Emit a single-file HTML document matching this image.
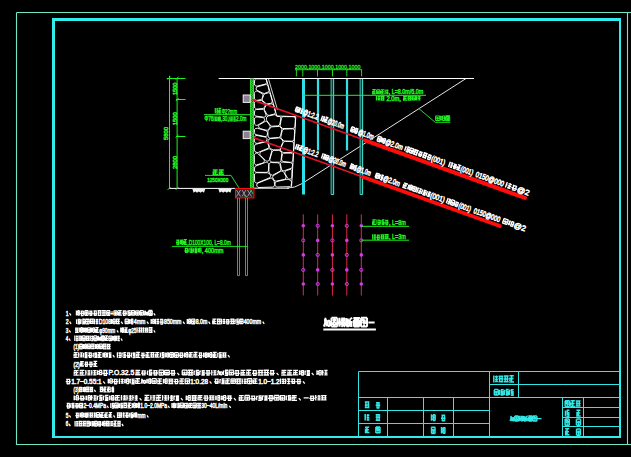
<!DOCTYPE html>
<html><head><meta charset="utf-8"><style>
html,body{margin:0;padding:0;background:#000;width:631px;height:457px;overflow:hidden}
svg{display:block}
text{font-family:"Liberation Sans",sans-serif;font-weight:normal}
</style></head><body>
<svg width="631" height="457" viewBox="0 0 631 457">
<rect width="631" height="457" fill="#000"/>
<path d="M16.5 12.5H631M627.5 12.5V444.5M16.5 12.5V444.5H631" stroke="#6ee6c8" stroke-width="1.1" fill="none"/><path d="M52 18H621V438H52Z M55 21V436H619V21Z" fill="#30ecec" fill-rule="evenodd"/><path d="M218.7 78.5H474" stroke="#ffffff" stroke-width="1" fill="none"/><path d="M466 78.5L302 183.6Q295 188 287 188.2" stroke="#ffffff" stroke-width="0.9" fill="none"/><path d="M169 188.4H235M254 188.2H289" stroke="#ffffff" stroke-width="1" fill="none"/><path d="M192.4 188.9L205.2 188.9L204.0 192.8L202.3 191.6L200.5 192.8L198.8 191.6L197.1 192.8L195.3 191.6L193.6 192.8ZM218.4 188.9L231.6 188.9L230.4 192.8L228.6 191.6L226.8 192.8L225.0 191.6L223.2 192.8L221.4 191.6L219.6 192.8Z" fill="#f0f0f0"/><path d="M266.2 78.6L276.8 116.0L295.8 116.6L291.5 186.8" stroke="#ffffff" stroke-width="1" fill="none"/><path d="M268.4 78.6L277.6 110" stroke="#ffffff" stroke-width="0.8" fill="none"/><path d="M265.1 84.2L266.2 83.6L266.8 82.6L266.5 80.5L265.7 79.3L264.3 78.8L256.7 78.8L255.5 79.1L254.7 79.9L254.4 83.9L254.8 85.2L255.9 86.1L257.2 86.1ZM272.0 162.2L279.7 162.2L280.6 161.5L281.0 160.5L281.9 152.9L280.3 151.0L278.7 150.3L274.2 150.3L272.8 150.8L272.0 152.0L269.9 159.2L270.0 160.6L270.8 161.7ZM268.0 136.0L268.4 137.1L269.3 138.0L270.5 138.2L278.6 137.5L279.9 136.9L280.6 135.7L282.0 129.1L281.4 128.1L279.4 126.4L271.2 126.9L268.4 130.3L267.9 131.8ZM265.3 141.6L266.4 141.0L267.0 139.9L267.0 138.6L266.3 137.6L265.2 137.0L257.1 135.5L255.8 135.6L254.8 136.5L254.4 137.8L254.4 141.1L254.8 142.4L255.9 143.2L257.2 143.4ZM286.4 170.5L285.3 171.2L284.9 172.5L285.1 173.7L287.5 178.0L288.6 179.0L289.7 179.2L290.8 178.9L291.6 178.1L291.9 177.1L292.0 170.7L291.3 169.8L290.3 169.4ZM257.0 152.5L258.3 152.4L268.3 148.2L268.8 147.2L268.8 146.1L267.5 142.6L266.5 142.0L265.3 141.9L255.3 144.4L254.4 146.2L254.4 150.1L255.3 152.0ZM257.0 100.4L261.2 99.6L262.0 98.6L262.9 96.0L263.0 94.9L262.6 93.9L257.7 91.3L256.5 91.1L255.5 91.4L254.7 92.3L254.4 93.4L254.4 98.2L254.8 99.4L255.7 100.2ZM270.4 103.5L271.5 102.9L272.2 101.9L272.2 100.6L270.4 94.3L269.8 93.2L268.7 92.7L265.0 93.7L263.7 95.1L262.4 98.6L262.3 99.9L263.0 101.1L266.5 103.9ZM290.6 162.7L281.8 162.0L280.9 162.7L280.4 163.6L281.4 169.1L282.0 170.2L283.2 170.8L284.4 170.7L291.0 168.4L292.1 167.7L292.6 165.1L292.4 164.0L291.7 163.1ZM264.5 110.1L267.2 115.0L269.1 115.4L273.6 114.2L274.7 113.6L275.3 112.6L275.3 111.4L273.6 105.4L273.0 104.5L272.1 103.9L271.0 103.8L266.7 104.7L264.6 107.9L264.3 109.0ZM265.4 84.6L256.8 86.9L256.2 87.9L256.1 89.0L256.5 90.0L263.0 93.3L264.8 93.4L267.7 92.2L268.6 91.6L269.1 90.6L268.1 86.2L267.6 85.2L266.5 84.6ZM270.4 148.6L273.1 149.9L278.1 149.9L279.3 149.6L280.2 148.6L282.8 142.5L283.0 141.2L281.1 138.5L279.2 137.8L270.2 138.6L269.0 139.1L268.1 140.6L268.0 141.9L269.5 147.3ZM257.3 128.2L255.3 128.6L254.6 129.4L254.4 132.7L255.3 134.5L264.9 136.6L266.2 136.4L267.2 135.5L267.5 132.7L267.0 131.4L265.9 130.6ZM269.3 173.6L267.6 172.8L256.7 172.7L255.6 173.0L254.7 173.9L254.4 175.0L254.7 181.8L255.4 182.6L256.5 183.0L257.6 182.8L269.2 178.0L270.1 177.4L270.5 176.4L270.5 175.3ZM285.4 141.4L284.1 141.7L283.2 142.7L280.6 148.6L280.4 150.0L281.1 151.2L283.4 152.6L291.2 152.6L292.3 152.3L293.2 151.6L293.5 150.5L293.9 144.0L293.7 142.9L292.9 142.0L291.7 141.6ZM258.1 183.0L257.1 183.8L256.7 185.0L257.0 186.2L257.9 187.2L259.1 187.5L272.4 187.1L273.5 186.8L274.3 185.9L274.6 184.8L274.2 181.2L272.8 179.0L271.1 177.9ZM266.2 172.4L267.4 172.1L268.2 171.2L268.5 170.1L268.6 164.6L268.4 163.5L267.6 162.7L266.6 162.3L265.5 162.4L255.9 165.9L254.8 166.8L254.4 170.0L254.7 171.2L255.5 172.0L256.7 172.3ZM254.4 119.1L254.7 124.3L255.6 125.1L256.7 125.4L257.9 125.1L263.4 121.7L264.2 120.9L264.6 119.8L264.3 118.7L263.6 117.9L262.5 117.5L257.0 116.9L255.7 117.1L254.8 117.9ZM263.6 117.2L264.8 117.0L265.8 116.2L266.2 115.1L264.3 110.5L263.4 109.6L262.1 109.3L256.6 109.5L255.5 109.9L254.7 110.7L254.4 114.1L254.7 115.2L255.4 116.0ZM256.8 109.1L263.4 108.5L265.2 106.0L265.3 104.0L264.8 103.2L261.5 100.5L256.4 100.9L255.4 101.3L254.7 102.1L254.4 103.2L254.7 108.0L255.6 108.9ZM273.8 175.3L272.9 176.2L272.6 177.3L274.0 180.1L275.0 181.0L276.4 181.1L284.4 179.4L285.4 178.9L286.2 177.0L283.8 172.2L283.0 171.3L281.8 171.0L280.7 171.3ZM284.4 129.1L283.0 129.6L282.2 130.8L280.9 136.2L280.9 137.4L281.4 138.4L283.1 140.2L284.7 141.0L291.8 141.2L293.0 141.0L293.9 140.2L294.2 139.1L294.7 131.2L294.4 130.0L293.6 129.1L292.3 128.8ZM281.4 118.2L280.1 125.8L280.7 126.8L282.7 128.5L292.8 128.4L293.9 128.0L294.7 127.3L295.0 126.2L295.4 119.2L295.2 118.0L294.4 117.1L293.2 116.7L282.7 116.6ZM266.1 130.2L267.4 130.2L268.5 129.4L269.7 127.9L270.1 126.5L269.7 125.1L267.4 122.2L266.5 121.5L265.4 121.3L259.7 124.5L258.8 125.4L258.6 126.7L259.2 127.9L260.3 128.6ZM263.7 159.2L257.4 153.2L256.4 153.1L255.4 153.5L254.7 154.3L254.4 155.4L254.4 162.8L254.7 163.8L255.4 164.6L256.4 165.0L262.8 163.0L263.8 162.3L264.3 161.3L264.3 160.2ZM265.6 160.5L266.6 161.1L267.8 161.2L268.8 160.6L269.4 159.6L271.6 151.8L271.6 150.4L270.5 149.2L269.5 148.8L268.4 148.9L261.3 151.6L260.4 152.3L259.9 153.3L259.9 154.4L260.5 155.4ZM275.0 184.7L275.3 185.9L276.2 186.7L277.4 187.0L289.2 186.7L290.3 186.4L291.1 185.6L291.6 182.4L291.2 181.1L290.2 180.2L288.4 179.4L287.0 179.2L276.8 181.5L275.2 182.7ZM268.2 116.0L266.7 117.1L266.4 119.5L266.9 120.8L270.3 125.3L271.2 126.0L272.3 126.2L277.7 125.9L279.0 125.3L279.8 124.1L280.8 119.0L280.7 117.7L279.9 116.7L276.6 116.2L276.1 115.2L275.0 114.6ZM290.9 153.0L283.5 153.2L282.6 153.9L282.2 154.9L281.6 158.9L281.8 160.2L282.5 161.1L283.7 161.6L290.4 162.3L291.6 162.1L292.5 161.3L292.9 160.1L293.2 155.5L293.0 154.3L292.1 153.4ZM271.4 162.5L270.2 162.8L269.3 163.6L269.0 164.8L268.9 171.6L269.5 173.2L270.7 174.5L272.5 175.3L279.9 171.3L280.8 170.2L280.9 168.8L279.9 164.5L279.1 163.3L277.8 162.8Z" stroke="#ffffff" stroke-width="0.95" fill="none"/><rect x="250.3" y="78.6" width="3.4" height="109.6" fill="#137a13"/><path d="M250.6 78.6V188.2M253.5 78.6V188.2" stroke="#2ee62e" stroke-width="1" fill="none"/><path d="M251.2 80.0l1.6 1.2l-1.6 1.2M251.2 82.4l1.6 1.2l-1.6 1.2M251.2 84.8l1.6 1.2l-1.6 1.2M251.2 87.2l1.6 1.2l-1.6 1.2M251.2 89.6l1.6 1.2l-1.6 1.2M251.2 92.0l1.6 1.2l-1.6 1.2M251.2 94.4l1.6 1.2l-1.6 1.2M251.2 96.8l1.6 1.2l-1.6 1.2M251.2 99.2l1.6 1.2l-1.6 1.2M251.2 101.6l1.6 1.2l-1.6 1.2M251.2 104.0l1.6 1.2l-1.6 1.2M251.2 106.4l1.6 1.2l-1.6 1.2M251.2 108.8l1.6 1.2l-1.6 1.2M251.2 111.2l1.6 1.2l-1.6 1.2M251.2 113.6l1.6 1.2l-1.6 1.2M251.2 116.0l1.6 1.2l-1.6 1.2M251.2 118.4l1.6 1.2l-1.6 1.2M251.2 120.8l1.6 1.2l-1.6 1.2M251.2 123.2l1.6 1.2l-1.6 1.2M251.2 125.6l1.6 1.2l-1.6 1.2M251.2 128.0l1.6 1.2l-1.6 1.2M251.2 130.4l1.6 1.2l-1.6 1.2M251.2 132.8l1.6 1.2l-1.6 1.2M251.2 135.2l1.6 1.2l-1.6 1.2M251.2 137.6l1.6 1.2l-1.6 1.2M251.2 140.0l1.6 1.2l-1.6 1.2M251.2 142.4l1.6 1.2l-1.6 1.2M251.2 144.8l1.6 1.2l-1.6 1.2M251.2 147.2l1.6 1.2l-1.6 1.2M251.2 149.6l1.6 1.2l-1.6 1.2M251.2 152.0l1.6 1.2l-1.6 1.2M251.2 154.4l1.6 1.2l-1.6 1.2M251.2 156.8l1.6 1.2l-1.6 1.2M251.2 159.2l1.6 1.2l-1.6 1.2M251.2 161.6l1.6 1.2l-1.6 1.2M251.2 164.0l1.6 1.2l-1.6 1.2M251.2 166.4l1.6 1.2l-1.6 1.2M251.2 168.8l1.6 1.2l-1.6 1.2M251.2 171.2l1.6 1.2l-1.6 1.2M251.2 173.6l1.6 1.2l-1.6 1.2M251.2 176.0l1.6 1.2l-1.6 1.2M251.2 178.4l1.6 1.2l-1.6 1.2M251.2 180.8l1.6 1.2l-1.6 1.2M251.2 183.2l1.6 1.2l-1.6 1.2M251.2 185.6l1.6 1.2l-1.6 1.2" stroke="#3cf03c" stroke-width="0.7" fill="none"/><rect x="243.2" y="95.0" width="7" height="7.4" fill="#8c8296" stroke="#f0f0f0" stroke-width="1"/><rect x="243.2" y="131.2" width="7" height="7.4" fill="#8c8296" stroke="#f0f0f0" stroke-width="1"/><rect x="235.5" y="188.5" width="18.4" height="9.4" fill="#2a2228" stroke="#ff0c0c" stroke-width="1.1"/><path d="M236.5 190l4 6.5M240.5 190l-4 6.5M242 190l4 6.5M246 190l-4 6.5M247.5 190l4 6.5M251.5 190l-4 6.5" stroke="#a8a0b0" stroke-width="0.9" fill="none"/><path d="M250.5 189.5l2.5 4.5M244 195.5l3 1.5" stroke="#3ad23a" stroke-width="0.9" fill="none"/><path d="M237.5 198V275.6M239.5 198V275.6M245.5 198V275.6M247.5 198V275.6M237.5 275.6H239.5M245.5 275.6H247.5" stroke="#d23ce6" stroke-width="1" fill="none"/><path d="M303.5 79V194.5" stroke="#2ee0e8" stroke-width="3" fill="none"/><path d="M318 79V150.5M347 79V150.5" stroke="#2ee0e8" stroke-width="2.2" fill="none"/><path d="M331.2 79V194.5M333.6 79V194.5M360.2 79V194.5M362.6 79V194.5M331.2 194.5H333.6M360.2 194.5H362.6" stroke="#44dccc" stroke-width="1.1" fill="none"/><path d="M332.4 79V194M361.4 79V194" stroke="#0a3a38" stroke-width="1.2" fill="none"/><path d="M252.4 99.8L365.0 140.3" stroke="#e01428" stroke-width="1.7" fill="none"/><path d="M365.0 140.3L525.0 197.9" stroke="#ff0c0c" stroke-width="4" stroke-linecap="round" fill="none"/><path d="M253.7 137.8L363.0 177.0" stroke="#e01428" stroke-width="1.7" fill="none"/><path d="M363.0 177.0L499.9 226.0" stroke="#ff0c0c" stroke-width="3.8" stroke-linecap="round" fill="none"/><g transform="translate(296.70 106.34) rotate(19.792) scale(0.6449 1)"><path d="M0.28 0.65H5.32M0.28 5.10H5.32M0.25 0.45V5.15M5.30 0.45V5.15M0.56 2.62H5.04M2.84 1.68V5.04M6.59 0.00V5.60M6.05 2.33H7.73M8.29 0.80H11.65M8.29 2.96H11.65M8.29 5.06H11.65M9.77 0.00V5.32" stroke="#ffffff" stroke-width="1.45" fill="none" vector-effect="non-scaling-stroke"/><text x="12.10" y="5.60" font-size="7.78" fill="#ffffff" stroke="#ffffff" stroke-width="0.58">@1:2.2</text></g><g transform="translate(322.40 115.59) rotate(19.792) scale(0.5755 1)"><path d="M0.50 0.00V5.60M0.00 2.40H1.68M2.24 0.90H5.60M2.24 3.28H5.60M2.24 5.07H5.60M3.87 0.00V5.32M6.33 0.24H11.37M9.01 0.28V5.32M6.61 2.71H11.09M6.05 4.99H11.65M6.72 1.68V4.48" stroke="#ffffff" stroke-width="1.45" fill="none" vector-effect="non-scaling-stroke"/><text x="12.10" y="5.60" font-size="7.78" fill="#ffffff" stroke="#ffffff" stroke-width="0.58">@20.0m</text></g><g transform="translate(352.00 126.24) rotate(19.792) scale(0.6421 1)"><path d="M0.28 0.47H5.32M0.28 5.23H5.32M0.27 0.45V5.15M5.18 0.45V5.15M0.56 2.66H5.04M2.62 1.68V5.04M6.61 0.64H11.09M7.53 0.84V5.60M10.12 0.84V5.60M6.05 3.44H11.65M7.17 5.29H10.53" stroke="#ffffff" stroke-width="1.45" fill="none" vector-effect="non-scaling-stroke"/><text x="12.10" y="5.60" font-size="7.78" fill="#ffffff" stroke="#ffffff" stroke-width="0.58">@1.0m</text></g><g transform="translate(378.50 135.78) rotate(19.792) scale(0.7188 1)"><path d="M0.28 0.43H5.32M0.28 5.34H5.32M0.39 0.45V5.15M5.04 0.45V5.15M0.56 2.66H5.04M2.93 1.68V5.04M6.92 0.28V5.32M6.05 1.69H8.01M6.05 4.09H8.01M8.57 0.66H11.37M8.57 2.70H11.37M8.57 5.26H11.37M8.68 0.56V5.04M11.05 0.56V5.04" stroke="#ffffff" stroke-width="1.45" fill="none" vector-effect="non-scaling-stroke"/><text x="12.10" y="5.60" font-size="7.78" fill="#ffffff" stroke="#ffffff" stroke-width="0.58">@2.0m</text></g><g transform="translate(406.00 145.68) rotate(19.792) scale(0.7808 1)"><path d="M0.49 0.56V5.32M0.00 1.31H1.68M2.24 0.52H5.60M2.24 2.45H5.60M2.24 3.73H5.60M1.96 5.35H5.60M3.21 0.56V3.92M4.90 2.24V5.32M6.33 0.54H11.37M6.33 5.19H11.37M6.53 0.45V5.15M11.18 0.45V5.15M6.61 2.95H11.09M9.05 1.68V5.04M12.10 0.65H17.70M12.10 2.61H17.70M12.10 5.14H17.70M13.41 0.56V5.32M16.33 0.28V5.04M18.70 0.98H23.18M19.73 0.84V5.60M22.29 0.84V5.60M18.14 3.44H23.74M19.26 5.11H22.62M24.19 0.50H29.79M24.19 2.85H29.79M24.19 5.04H29.79M25.47 0.56V5.32M28.30 0.28V5.04M30.80 0.73H35.28M31.87 0.84V5.60M34.61 0.84V5.60M30.24 3.17H35.84M31.36 5.30H34.72" stroke="#ffffff" stroke-width="1.45" fill="none" vector-effect="non-scaling-stroke"/><text x="36.29" y="5.60" font-size="7.78" fill="#ffffff" stroke="#ffffff" stroke-width="0.58">(001)</text></g><g transform="translate(450.00 161.51) rotate(19.792) scale(0.7026 1)"><path d="M0.57 0.00V5.60M0.00 2.36H1.68M2.24 0.81H5.60M2.24 3.10H5.60M2.24 5.13H5.60M4.14 0.00V5.32M6.61 1.01H11.09M7.93 0.84V5.60M10.09 0.84V5.60M6.05 3.21H11.65M7.17 5.20H10.53M12.38 0.23H17.42M15.04 0.28V5.32M12.66 2.66H17.14M12.10 5.05H17.70M12.78 1.68V4.48" stroke="#ffffff" stroke-width="1.45" fill="none" vector-effect="non-scaling-stroke"/><text x="18.14" y="5.60" font-size="7.78" fill="#ffffff" stroke="#ffffff" stroke-width="0.58">(001)</text></g><g transform="translate(477.00 171.23) rotate(19.792) scale(0.7775 1)"><text x="0.00" y="5.60" font-size="7.78" fill="#ffffff" stroke="#ffffff" stroke-width="0.58">0150@000</text></g><g transform="translate(506.70 181.91) rotate(19.792) scale(1.0315 1)"><path d="M0.61 0.00V5.60M0.00 2.55H1.68M2.24 1.04H5.60M2.24 3.17H5.60M2.24 5.05H5.60M3.97 0.00V5.32M6.61 0.95H11.09M7.71 0.84V5.60M10.41 0.84V5.60M6.05 3.56H11.65M7.17 5.40H10.53" stroke="#ffffff" stroke-width="1.45" fill="none" vector-effect="non-scaling-stroke"/><text x="12.10" y="5.60" font-size="7.78" fill="#ffffff" stroke="#ffffff" stroke-width="0.58">@2</text></g><g transform="translate(296.70 143.80) rotate(19.710) scale(0.6446 1)"><path d="M0.62 0.00V5.60M0.00 2.47H1.68M2.24 0.66H5.60M2.24 3.14H5.60M2.24 4.84H5.60M3.73 0.00V5.32M6.33 0.42H11.37M8.67 0.28V5.32M6.61 2.85H11.09M6.05 4.97H11.65M6.92 1.68V4.48" stroke="#ffffff" stroke-width="1.45" fill="none" vector-effect="non-scaling-stroke"/><text x="12.10" y="5.60" font-size="7.78" fill="#ffffff" stroke="#ffffff" stroke-width="0.58">@1:2.2</text></g><g transform="translate(323.00 153.23) rotate(19.710) scale(0.6109 1)"><path d="M0.49 0.00V5.60M0.00 2.46H1.68M2.24 0.63H5.60M2.24 3.25H5.60M2.24 5.09H5.60M3.76 0.00V5.32M6.33 0.65H11.37M6.33 5.20H11.37M6.48 0.45V5.15M11.03 0.45V5.15M6.61 2.79H11.09M9.06 1.68V5.04" stroke="#ffffff" stroke-width="1.45" fill="none" vector-effect="non-scaling-stroke"/><text x="12.10" y="5.60" font-size="7.78" fill="#ffffff" stroke="#ffffff" stroke-width="0.58">@20.0m</text></g><g transform="translate(351.00 163.26) rotate(19.710) scale(0.5963 1)"><path d="M0.00 0.55H5.60M0.00 2.61H5.60M0.00 4.86H5.60M1.33 0.56V5.32M4.09 0.28V5.04M6.69 0.56V5.32M6.05 1.13H7.73M8.29 0.43H11.65M8.29 2.44H11.65M8.29 3.86H11.65M8.01 5.41H11.65M9.31 0.56V3.92M10.92 2.24V5.32" stroke="#ffffff" stroke-width="1.45" fill="none" vector-effect="non-scaling-stroke"/><text x="12.10" y="5.60" font-size="7.78" fill="#ffffff" stroke="#ffffff" stroke-width="0.58">@1.0m</text></g><g transform="translate(376.50 172.39) rotate(19.710) scale(0.6957 1)"><path d="M0.28 0.66H5.32M0.28 5.31H5.32M0.54 0.45V5.15M5.04 0.45V5.15M0.56 2.74H5.04M2.65 1.68V5.04M6.48 0.56V5.32M6.05 1.14H7.73M8.29 0.56H11.65M8.29 2.30H11.65M8.29 3.97H11.65M8.01 5.45H11.65M9.24 0.56V3.92M10.67 2.24V5.32" stroke="#ffffff" stroke-width="1.45" fill="none" vector-effect="non-scaling-stroke"/><text x="12.10" y="5.60" font-size="7.78" fill="#ffffff" stroke="#ffffff" stroke-width="0.58">@2.0m</text></g><g transform="translate(404.00 182.24) rotate(19.710) scale(0.8116 1)"><path d="M0.28 0.59H5.32M2.91 0.28V5.32M0.56 2.68H5.04M0.00 5.16H5.60M0.78 1.68V4.48M7.11 0.28V5.32M6.05 1.81H8.01M6.05 3.91H8.01M8.57 0.42H11.37M8.57 2.85H11.37M8.57 4.97H11.37M8.99 0.56V5.04M11.19 0.56V5.04M12.38 0.65H17.42M12.38 5.09H17.42M12.42 0.45V5.15M17.13 0.45V5.15M12.66 2.66H17.14M14.76 1.68V5.04M19.03 0.00V5.60M18.14 2.57H19.82M20.38 0.62H23.74M20.38 3.26H23.74M20.38 4.97H23.74M22.13 0.00V5.32M24.82 0.56V5.32M24.19 1.30H25.87M26.43 0.69H29.79M26.43 2.35H29.79M26.43 3.91H29.79M26.15 5.18H29.79M27.40 0.56V3.92M28.88 2.24V5.32M31.00 0.56V5.32M30.24 1.22H31.92M32.48 0.54H35.84M32.48 2.35H35.84M32.48 3.73H35.84M32.20 5.17H35.84M33.54 0.56V3.92M34.79 2.24V5.32" stroke="#ffffff" stroke-width="1.45" fill="none" vector-effect="non-scaling-stroke"/><text x="36.29" y="5.60" font-size="7.78" fill="#ffffff" stroke="#ffffff" stroke-width="0.58">(001)</text></g><g transform="translate(447.60 197.86) rotate(19.710) scale(0.7140 1)"><path d="M0.85 0.00V5.60M0.00 2.66H1.68M2.24 0.68H5.60M2.24 3.23H5.60M2.24 5.26H5.60M3.99 0.00V5.32M6.33 0.29H11.37M6.33 5.17H11.37M6.28 0.45V5.15M11.33 0.45V5.15M6.61 2.90H11.09M8.67 1.68V5.04M12.66 1.03H17.14M13.75 0.84V5.60M16.46 0.84V5.60M12.10 3.51H17.70M13.22 5.19H16.58" stroke="#ffffff" stroke-width="1.45" fill="none" vector-effect="non-scaling-stroke"/><text x="18.14" y="5.60" font-size="7.78" fill="#ffffff" stroke="#ffffff" stroke-width="0.58">(001)</text></g><g transform="translate(475.00 207.68) rotate(19.710) scale(0.7238 1)"><text x="0.00" y="5.60" font-size="7.78" fill="#ffffff" stroke="#ffffff" stroke-width="0.58">0150@000</text></g><g transform="translate(503.70 217.96) rotate(19.710) scale(1.0045 1)"><path d="M0.28 0.32H5.32M0.28 5.15H5.32M0.57 0.45V5.15M5.07 0.45V5.15M0.56 2.82H5.04M2.95 1.68V5.04M7.07 0.28V5.32M6.05 1.61H8.01M6.05 3.90H8.01M8.57 0.60H11.37M8.57 2.98H11.37M8.57 5.00H11.37M9.04 0.56V5.04M11.09 0.56V5.04" stroke="#ffffff" stroke-width="1.45" fill="none" vector-effect="non-scaling-stroke"/><text x="12.10" y="5.60" font-size="7.78" fill="#ffffff" stroke="#ffffff" stroke-width="0.58">@2</text></g><path d="M169.5 75.8V188.4M177.1 78.5V188.4M166.8 78.5H185.5M176 99.5H185.5M176 136.5H185.5" stroke="#22f022" stroke-width="1" fill="none"/><path d="M167.6 79.6l3 -3M175.7 79.6l3 -3M175.7 101.1l3 -3M175.7 137.6l3 -3M175.7 189.9l3 -3M167.6 189.9l3 -3" stroke="#22f022" stroke-width="1" fill="none"/><g transform="translate(172.8 95) rotate(-90)"><g transform="translate(0.00 0.00) scale(1.0646 1)"><text x="0.00" y="3.80" font-size="5.28" fill="#22f022" stroke="#22f022" stroke-width="0.48">1500</text></g></g><g transform="translate(172.8 125.2) rotate(-90)"><g transform="translate(0.00 0.00) scale(1.1072 1)"><text x="0.00" y="3.80" font-size="5.28" fill="#22f022" stroke="#22f022" stroke-width="0.48">1500</text></g></g><g transform="translate(172.8 169) rotate(-90)"><g transform="translate(0.00 0.00) scale(1.1072 1)"><text x="0.00" y="3.80" font-size="5.28" fill="#22f022" stroke="#22f022" stroke-width="0.48">2800</text></g></g><g transform="translate(164.6 140) rotate(-90)"><g transform="translate(0.00 0.00) scale(1.1072 1)"><text x="0.00" y="3.80" font-size="5.28" fill="#22f022" stroke="#22f022" stroke-width="0.48">5800</text></g></g><g transform="translate(215.00 108.00) scale(0.5509 1)"><path d="M0.52 0.00V5.60M0.00 2.52H1.68M2.24 1.01H5.60M2.24 3.20H5.60M2.24 5.09H5.60M4.04 0.00V5.32M6.33 0.30H11.37M8.84 0.28V5.32M6.61 2.90H11.09M6.05 5.18H11.65M6.81 1.68V4.48" stroke="#22f022" stroke-width="1.20" fill="none" vector-effect="non-scaling-stroke"/><text x="12.10" y="5.60" font-size="7.78" fill="#22f022" stroke="#22f022" stroke-width="0.48">Φ2?mm</text></g><path d="M204 114.7H250" stroke="#22f022" stroke-width="1" fill="none"/><g transform="translate(204.50 116.20) scale(0.6514 1)"><path d="M14.60 0.00V5.20M13.96 2.33H15.52M16.04 0.90H19.16M16.04 3.02H19.16M16.04 4.50H19.16M17.47 0.00V4.94M20.47 0.26V4.94M19.58 1.56H21.40M19.58 3.67H21.40M21.92 0.63H24.52M21.92 2.77H24.52M21.92 4.66H24.52M22.22 0.52V4.68M24.26 0.52V4.68M37.74 0.00V5.20M37.24 2.25H38.80M39.32 0.78H42.44M39.32 2.99H42.44M39.32 4.68H42.44M40.77 0.00V4.94M43.64 0.00V5.20M42.86 2.52H44.42M44.94 0.68H48.06M44.94 2.88H48.06M44.94 4.86H48.06M46.64 0.00V4.94" stroke="#22f022" stroke-width="1.20" fill="none" vector-effect="non-scaling-stroke"/><text x="0.00" y="5.20" font-size="7.22" fill="#22f022" stroke="#22f022" stroke-width="0.48">Φ76</text><text x="25.19" y="5.20" font-size="7.22" fill="#22f022" stroke="#22f022" stroke-width="0.48">,30,</text><text x="48.47" y="5.20" font-size="7.22" fill="#22f022" stroke="#22f022" stroke-width="0.48">2.0m</text></g><g transform="translate(212.50 169.60) scale(1.0684 1)"><path d="M0.26 0.38H4.94M2.56 0.26V4.94M0.52 2.52H4.68M0.00 4.86H5.20M0.75 1.56V4.16M5.88 0.49H10.56M8.33 0.26V4.94M6.14 2.77H10.30M5.62 4.64H10.82M6.49 1.56V4.16" stroke="#22f022" stroke-width="1.50" fill="none" vector-effect="non-scaling-stroke"/></g><path d="M205 175.4H231L239 188" stroke="#22f022" stroke-width="0.9" fill="none"/><g transform="translate(207.20 177.10) scale(0.7403 1)"><text x="0.00" y="4.50" font-size="6.25" fill="#22f022" stroke="#22f022" stroke-width="0.52">1250X000</text></g><g transform="translate(176.00 239.30) scale(0.6254 1)"><path d="M0.56 0.78H5.04M1.57 0.84V5.60M4.04 0.84V5.60M0.00 3.35H5.60M1.12 5.43H4.48M6.84 0.28V5.32M6.05 1.67H8.01M6.05 4.14H8.01M8.57 0.71H11.37M8.57 2.65H11.37M8.57 5.01H11.37M8.85 0.56V5.04M11.02 0.56V5.04M12.38 0.38H17.42M14.71 0.28V5.32M12.66 2.74H17.14M12.10 5.08H17.70M12.92 1.68V4.48" stroke="#22f022" stroke-width="1.20" fill="none" vector-effect="non-scaling-stroke"/><text x="18.14" y="5.60" font-size="7.78" fill="#22f022" stroke="#22f022" stroke-width="0.48">,D100X100,</text><text x="61.40" y="5.60" font-size="7.78" fill="#22f022" stroke="#22f022" stroke-width="0.48">L=8.0m</text></g><path d="M172 246.4H247.7" stroke="#22f022" stroke-width="0.9" fill="none"/><g transform="translate(184.30 247.80) scale(0.8075 1)"><path d="M0.50 0.56H4.50M1.43 0.75V5.00M3.80 0.75V5.00M0.00 3.00H5.00M1.00 4.58H4.00M5.79 0.50V4.75M5.40 1.15H6.90M7.40 0.33H10.40M7.40 1.91H10.40M7.40 3.66H10.40M7.15 4.62H10.40M8.25 0.50V3.50M9.78 2.00V4.75M11.46 0.50V4.75M10.80 1.13H12.30M12.80 0.40H15.80M12.80 1.86H15.80M12.80 3.67H15.80M12.55 4.78H15.80M13.63 0.50V3.50M14.89 2.00V4.75M17.07 0.25V4.75M16.20 1.37H17.95M16.20 3.66H17.95M18.45 0.41H20.95M18.45 2.31H20.95M18.45 4.34H20.95M18.60 0.50V4.50M20.74 0.50V4.50" stroke="#22f022" stroke-width="1.20" fill="none" vector-effect="non-scaling-stroke"/><text x="21.60" y="5.00" font-size="6.94" fill="#22f022" stroke="#22f022" stroke-width="0.48">,</text><text x="25.47" y="5.00" font-size="6.94" fill="#22f022" stroke="#22f022" stroke-width="0.48">400mm</text></g><g transform="translate(295.00 65.00) scale(0.8774 1)"><text x="0.00" y="4.40" font-size="6.11" fill="#22f022" stroke="#22f022" stroke-width="0.32">2000,1000,1000,1000,1000</text></g><path d="M295 69.7H362M296.4 69.7V76.4M302.8 69.7V76.4M317.5 69.7V76.4M332.5 69.7V76.4M346.8 69.7V76.4M361.6 69.7V76.4" stroke="#22f022" stroke-width="0.9" fill="none"/><g transform="translate(372.10 89.50) scale(0.8042 1)"><path d="M0.24 0.22H4.56M2.54 0.24V4.56M0.48 2.38H4.32M0.00 4.35H4.80M0.74 1.44V3.84M5.42 0.43H9.74M5.42 4.24H9.74M5.65 0.38V4.42M9.77 0.38V4.42M5.66 2.58H9.50M7.49 1.44V4.32M10.61 0.27H14.93M12.70 0.24V4.56M10.85 2.33H14.69M10.37 4.52H15.17M11.01 1.44V3.84M16.19 0.00V4.80M15.55 2.07H16.99M17.47 0.84H20.35M17.47 2.83H20.35M17.47 4.14H20.35M18.73 0.00V4.56" stroke="#22f022" stroke-width="1.20" fill="none" vector-effect="non-scaling-stroke"/><text x="20.74" y="4.80" font-size="6.67" fill="#22f022" stroke="#22f022" stroke-width="0.48">,</text><text x="24.45" y="4.80" font-size="6.67" fill="#22f022" stroke="#22f022" stroke-width="0.48">L=8.0m/6.0m</text></g><path d="M303 95.3H426" stroke="#22f022" stroke-width="1" fill="none"/><g transform="translate(375.90 95.90) scale(0.9050 1)"><path d="M0.57 0.00V4.60M0.00 1.96H1.38M1.84 0.68H4.60M1.84 2.69H4.60M1.84 4.00H4.60M3.34 0.00V4.37M4.97 0.52H9.57M4.97 2.32H9.57M4.97 4.28H9.57M6.29 0.46V4.37M8.35 0.23V4.14M30.08 0.55H34.22M32.09 0.23V4.37M30.31 2.42H33.99M29.85 4.31H34.45M30.59 1.38V3.68M34.82 0.64H39.42M34.82 2.48H39.42M34.82 4.26H39.42M35.79 0.46V4.37M38.32 0.23V4.14M40.02 0.34H44.16M40.02 4.07H44.16M40.22 0.37V4.23M43.98 0.37V4.23M40.25 2.30H43.93M42.26 1.38V4.14M45.21 0.00V4.60M44.75 1.99H46.13M46.59 0.68H49.35M46.59 2.40H49.35M46.59 4.12H49.35M47.89 0.00V4.37" stroke="#22f022" stroke-width="1.20" fill="none" vector-effect="non-scaling-stroke"/><text x="11.72" y="4.60" font-size="6.39" fill="#22f022" stroke="#22f022" stroke-width="0.48">2.0m,</text></g><path d="M418.9 108.6L435.2 122.3H450.4" stroke="#22f022" stroke-width="0.9" fill="none"/><g transform="translate(435.40 115.40) scale(0.8267 1)"><path d="M0.28 0.66H5.32M0.28 5.17H5.32M0.33 0.45V5.15M5.36 0.45V5.15M0.56 2.71H5.04M2.74 1.68V5.04M6.81 0.28V5.32M6.05 1.49H8.01M6.05 3.82H8.01M8.57 0.63H11.37M8.57 2.69H11.37M8.57 5.16H11.37M8.66 0.56V5.04M11.23 0.56V5.04M12.10 0.39L17.70 0.39M14.62 0.39L14.34 1.40M12.54 1.40L17.25 1.40M12.54 1.40L12.54 5.43M17.25 1.40L17.25 5.43M12.54 5.32L17.25 5.32M14.06 1.40L14.06 5.32M15.74 1.40L15.74 5.32M14.06 2.80L15.74 2.80M14.06 4.03L15.74 4.03" stroke="#22f022" stroke-width="1.10" fill="none" vector-effect="non-scaling-stroke"/></g><path d="M303.3 214.4V295.5M317.7 214.4V295.5M332.4 214.4V295.5M346.8 214.4V295.5M361.3 214.4V295.5" stroke="#e0284a" stroke-width="1" fill="none"/><circle cx="303.3" cy="225.8" r="1.8" fill="#d23ce6"/><circle cx="317.7" cy="225.8" r="1.6" fill="none" stroke="#d23ce6" stroke-width="1"/><circle cx="332.4" cy="225.8" r="1.8" fill="#d23ce6"/><circle cx="346.8" cy="225.8" r="1.6" fill="none" stroke="#d23ce6" stroke-width="1"/><circle cx="361.3" cy="225.8" r="1.8" fill="#d23ce6"/><circle cx="303.3" cy="240.4" r="1.6" fill="none" stroke="#d23ce6" stroke-width="1"/><circle cx="317.7" cy="240.4" r="1.8" fill="#d23ce6"/><circle cx="332.4" cy="240.4" r="1.6" fill="none" stroke="#d23ce6" stroke-width="1"/><circle cx="346.8" cy="240.4" r="1.8" fill="#d23ce6"/><circle cx="361.3" cy="240.4" r="1.6" fill="none" stroke="#d23ce6" stroke-width="1"/><circle cx="303.3" cy="254.9" r="1.8" fill="#d23ce6"/><circle cx="317.7" cy="254.9" r="1.6" fill="none" stroke="#d23ce6" stroke-width="1"/><circle cx="332.4" cy="254.9" r="1.8" fill="#d23ce6"/><circle cx="346.8" cy="254.9" r="1.6" fill="none" stroke="#d23ce6" stroke-width="1"/><circle cx="361.3" cy="254.9" r="1.8" fill="#d23ce6"/><circle cx="303.3" cy="269.9" r="1.6" fill="none" stroke="#d23ce6" stroke-width="1"/><circle cx="317.7" cy="269.9" r="1.8" fill="#d23ce6"/><circle cx="332.4" cy="269.9" r="1.6" fill="none" stroke="#d23ce6" stroke-width="1"/><circle cx="346.8" cy="269.9" r="1.8" fill="#d23ce6"/><circle cx="361.3" cy="269.9" r="1.6" fill="none" stroke="#d23ce6" stroke-width="1"/><circle cx="303.3" cy="284.0" r="1.8" fill="#d23ce6"/><circle cx="317.7" cy="284.0" r="1.6" fill="none" stroke="#d23ce6" stroke-width="1"/><circle cx="332.4" cy="284.0" r="1.8" fill="#d23ce6"/><circle cx="346.8" cy="284.0" r="1.6" fill="none" stroke="#d23ce6" stroke-width="1"/><circle cx="361.3" cy="284.0" r="1.8" fill="#d23ce6"/><path d="M361.3 226.3H409M361.3 240.2H409" stroke="#22f022" stroke-width="1" fill="none"/><g transform="translate(372.10 219.60) scale(0.7507 1)"><path d="M0.26 0.37H4.94M2.41 0.26V4.94M0.52 2.40H4.68M0.00 4.70H5.20M0.67 1.56V4.16M6.43 0.00V5.20M5.62 2.49H7.18M7.70 0.64H10.82M7.70 3.02H10.82M7.70 4.80H10.82M9.30 0.00V4.94M11.68 0.52V4.94M11.23 1.24H12.79M13.31 0.37H16.43M13.31 2.17H16.43M13.31 3.70H16.43M13.05 4.75H16.43M14.23 0.52V3.64M15.82 2.08V4.94M17.37 0.75H21.53M18.49 0.78V5.20M20.75 0.78V5.20M16.85 3.29H22.05M17.89 5.05H21.01" stroke="#22f022" stroke-width="1.20" fill="none" vector-effect="non-scaling-stroke"/><text x="22.46" y="5.20" font-size="7.22" fill="#22f022" stroke="#22f022" stroke-width="0.48">,</text><text x="26.49" y="5.20" font-size="7.22" fill="#22f022" stroke="#22f022" stroke-width="0.48">L=8m</text></g><g transform="translate(372.10 234.20) scale(0.7507 1)"><path d="M0.76 0.00V5.20M0.00 2.47H1.56M2.08 0.92H5.20M2.08 2.89H5.20M2.08 4.84H5.20M3.72 0.00V4.94M6.14 0.84H10.30M7.00 0.78V5.20M9.33 0.78V5.20M5.62 3.18H10.82M6.66 5.13H9.78M11.23 0.66H16.43M11.23 2.62H16.43M11.23 4.73H16.43M12.58 0.52V4.94M15.21 0.26V4.68M16.85 0.42H22.05M16.85 2.58H22.05M16.85 4.50H22.05M18.33 0.52V4.94M20.91 0.26V4.68" stroke="#22f022" stroke-width="1.20" fill="none" vector-effect="non-scaling-stroke"/><text x="22.46" y="5.20" font-size="7.22" fill="#22f022" stroke="#22f022" stroke-width="0.48">,</text><text x="26.49" y="5.20" font-size="7.22" fill="#22f022" stroke="#22f022" stroke-width="0.48">L=3m</text></g><g transform="translate(323.60 317.30) scale(0.9974 1)"><path d="M0.33 2.94L3.33 2.94M3.33 2.94L3.07 9.02M3.07 9.02L2.40 8.33M1.87 0.49L1.47 5.88M1.47 5.88L0.27 9.31M4.13 3.43L6.33 3.43M4.13 3.43L4.13 8.82M6.33 3.43L6.33 8.82M4.13 8.62L6.33 8.62M7.85 0.49L13.71 0.49M7.85 0.49L7.85 9.51M13.71 0.49L13.71 9.51M7.85 9.21L13.71 9.21M9.11 2.65L12.45 2.65M10.78 1.37L10.78 4.90M9.45 4.90L12.11 4.90M9.45 4.90L9.45 7.64M12.11 4.90L12.11 7.64M9.45 7.45L12.11 7.45M14.90 2.94L17.16 2.94M16.03 0.39L16.03 9.51M16.03 3.43L14.90 7.06M16.03 3.92L17.10 5.39M17.56 1.67L21.56 1.67M18.63 0.29L18.63 2.94M20.49 0.29L20.49 2.94M17.43 3.23L21.56 3.23M18.09 4.41L21.03 4.41M18.09 4.41L18.09 7.84M21.03 4.41L21.03 7.84M18.09 6.08L21.03 6.08M18.09 7.84L21.03 7.84M19.03 8.33L17.89 9.60M20.23 8.33L21.43 9.60M22.68 0.78L22.68 9.02M22.68 9.02L25.54 9.02M23.01 4.41L25.34 4.41M24.14 1.18L24.14 8.04M23.14 1.96L23.68 3.14M25.14 1.96L24.61 3.14M24.14 4.90L23.01 7.35M24.14 4.90L25.28 7.35M28.67 0.49L26.34 1.96M26.34 1.96L26.34 9.51M26.34 4.70L29.01 4.70M27.81 4.70L27.81 9.60M29.79 0.69L36.46 0.69M32.79 0.69L32.46 2.45M30.33 2.45L35.92 2.45M30.33 2.45L30.33 9.51M35.92 2.45L35.92 9.51M30.33 9.31L35.92 9.31M32.12 2.45L32.12 9.31M34.12 2.45L34.12 9.31M32.12 4.90L34.12 4.90M32.12 7.06L34.12 7.06M37.57 0.49L43.57 0.49M37.57 0.49L37.57 9.51M43.57 0.49L43.57 9.51M37.57 9.21L43.57 9.21M40.04 1.47L38.71 4.12M39.24 2.94L42.04 2.94M42.04 2.94L39.11 6.08M40.04 3.92L42.57 6.08M40.04 6.66L41.24 7.06M39.64 7.84L41.37 8.43M44.89 5.10L51.15 5.10" stroke="#ffffff" stroke-width="2.00" fill="none" vector-effect="non-scaling-stroke"/></g><rect x="323.3" y="328.5" width="52.6" height="2" fill="#ffffff"/><g transform="translate(65.70 310.20) scale(0.7334 1)"><path d="M5.20 3.03l1.92 2.20M14.62 0.28V5.22M13.72 1.46H15.65M13.72 3.95H15.65M16.20 0.44H18.95M16.20 2.56H18.95M16.20 4.85H18.95M16.57 0.55V4.95M18.54 0.55V4.95M20.21 0.89H24.61M21.30 0.82V5.50M23.94 0.82V5.50M19.66 3.11H25.16M20.76 5.41H24.06M25.88 0.56H30.83M25.88 5.11H30.83M26.11 0.44V5.06M30.48 0.44V5.06M26.15 2.59H30.55M28.25 1.65V4.95M32.09 0.91H36.49M33.25 0.82V5.50M35.51 0.82V5.50M31.54 3.29H37.04M32.64 5.22H35.94M38.03 0.65H42.43M39.01 0.82V5.50M41.60 0.82V5.50M37.48 3.39H42.98M38.58 5.13H41.88M43.42 0.54H48.92M43.42 2.58H48.92M43.42 5.12H48.92M44.67 0.55V5.22M47.76 0.28V4.95M49.36 0.34H54.86M49.36 2.73H54.86M49.36 5.09H54.86M50.94 0.55V5.22M53.47 0.28V4.95M55.58 0.39H60.53M55.58 5.24H60.53M55.93 0.44V5.06M60.18 0.44V5.06M55.85 2.57H60.25M58.16 1.65V4.95M65.53 0.64H70.48M65.53 4.90H70.48M65.84 0.44V5.06M70.32 0.44V5.06M65.81 2.92H70.21M68.10 1.65V4.95M71.47 0.44H76.42M74.11 0.28V5.22M71.75 2.70H76.15M71.20 4.91H76.70M72.22 1.65V4.40M77.69 0.80H82.09M78.70 0.82V5.50M81.11 0.82V5.50M77.14 3.23H82.64M78.24 5.14H81.54M83.55 0.55V5.22M83.08 1.02H84.73M85.28 0.48H88.58M85.28 2.16H88.58M85.28 4.04H88.58M85.00 5.09H88.58M85.89 0.55V3.85M87.86 2.20V5.22M89.29 0.38H94.24M89.29 5.01H94.24M89.68 0.44V5.06M94.12 0.44V5.06M89.57 2.69H93.97M91.74 1.65V4.95M95.23 0.60H100.18M95.23 4.96H100.18M95.20 0.44V5.06M100.09 0.44V5.06M95.51 2.81H99.91M97.55 1.65V4.95M101.17 0.41H106.12M101.17 4.98H106.12M101.46 0.44V5.06M106.08 0.44V5.06M101.45 2.72H105.85M103.44 1.65V4.95M107.11 1.65L109.59 1.65M109.59 1.65L109.37 5.06M109.37 5.06L108.82 4.67M108.38 0.28L108.05 3.30M108.05 3.30L107.06 5.22M110.25 1.92L112.06 1.92M110.25 1.92L110.25 4.95M112.06 1.92L112.06 4.95M110.25 4.84L112.06 4.84M113.11 0.28L117.95 0.28M113.11 0.28L113.11 5.33M117.95 0.28L117.95 5.33M113.11 5.17L117.95 5.17M114.15 1.49L116.90 1.49M115.53 0.77L115.53 2.75M114.43 2.75L116.63 2.75M114.43 2.75L114.43 4.29M116.63 2.75L116.63 4.29M114.43 4.18L116.63 4.18M120.09 3.03l1.92 2.20" stroke="#ffffff" stroke-width="1.30" fill="none" vector-effect="non-scaling-stroke"/><text x="0.00" y="5.50" font-size="6.88" fill="#ffffff" stroke="#ffffff" stroke-width="0.52">1</text><text x="61.24" y="5.50" font-size="6.88" fill="#ffffff" stroke="#ffffff" stroke-width="0.52">+</text></g><g transform="translate(65.70 318.70) scale(0.7591 1)"><path d="M5.20 3.03l1.92 2.20M14.33 0.55V5.22M13.72 1.28H15.37M15.92 0.74H19.22M15.92 2.22H19.22M15.92 3.95H19.22M15.65 5.03H19.22M16.85 0.55V3.85M18.38 2.20V5.22M20.05 0.55V5.22M19.66 1.26H21.31M21.86 0.54H25.16M21.86 2.38H25.16M21.86 3.87H25.16M21.59 5.08H25.16M22.65 0.55V3.85M24.24 2.20V5.22M25.88 0.55H30.83M25.88 5.27H30.83M25.94 0.44V5.06M30.73 0.44V5.06M26.15 2.66H30.55M28.38 1.65V4.95M31.54 0.38H37.04M31.54 2.81H37.04M31.54 4.76H37.04M32.92 0.55V5.22M35.81 0.28V4.95M38.02 0.00V5.50M37.48 2.65H39.13M39.68 1.04H42.98M39.68 3.00H42.98M39.68 4.79H42.98M41.20 0.00V5.22M60.54 0.28V5.22M59.86 1.67H61.78M59.86 3.77H61.78M62.33 0.49H65.08M62.33 2.89H65.08M62.33 4.82H65.08M62.40 0.55V4.95M64.97 0.55V4.95M65.80 0.51H71.30M65.80 2.76H71.30M65.80 4.90H71.30M67.10 0.55V5.22M69.73 0.28V4.95M73.11 3.03l1.92 2.20M78.06 0.47H83.01M78.06 5.00H83.01M78.31 0.44V5.06M82.86 0.44V5.06M78.34 2.88H82.74M80.69 1.65V4.95M84.45 0.28V5.22M83.73 1.54H85.65M83.73 3.81H85.65M86.20 0.53H88.95M86.20 2.95H88.95M86.20 5.10H88.95M86.64 0.55V4.95M88.47 0.55V4.95M107.09 3.03l1.92 2.20M112.56 0.28V5.22M111.77 1.77H113.69M111.77 3.98H113.69M114.24 0.76H116.99M114.24 2.75H116.99M114.24 4.76H116.99M114.71 0.55V4.95M116.91 0.55V4.95M118.52 0.00V5.50M117.71 2.68H119.36M119.91 0.71H123.21M119.91 2.85H123.21M119.91 4.80H123.21M121.57 0.00V5.22M124.20 0.65H128.60M125.44 0.82V5.50M127.86 0.82V5.50M123.65 3.45H129.15M124.75 5.40H128.05M154.66 3.03l1.92 2.20M160.18 0.28V5.22M159.34 1.45H161.26M159.34 3.97H161.26M161.81 0.43H164.56M161.81 2.93H164.56M161.81 5.01H164.56M162.00 0.55V4.95M164.12 0.55V4.95M165.55 0.45H170.50M165.55 5.03H170.50M165.83 0.44V5.06M170.16 0.44V5.06M165.83 2.66H170.23M168.22 1.65V4.95M188.26 3.03l1.92 2.20M193.21 0.39H198.16M195.56 0.28V5.22M193.49 2.79H197.89M192.94 4.84H198.44M193.67 1.65V4.40M198.88 0.45H204.38M198.88 2.67H204.38M198.88 5.10H204.38M200.14 0.55V5.22M203.01 0.28V4.95M205.36 0.00V5.50M204.82 2.68H206.47M207.02 0.92H210.32M207.02 2.94H210.32M207.02 4.74H210.32M208.66 0.00V5.22M211.31 0.89H215.71M212.22 0.82V5.50M214.76 0.82V5.50M210.76 3.27H216.26M211.86 5.17H215.16M216.70 0.35H222.20M216.70 2.68H222.20M216.70 4.92H222.20M218.15 0.55V5.22M220.69 0.28V4.95M223.09 0.55V5.22M222.64 1.25H224.29M224.84 0.36H228.14M224.84 2.20H228.14M224.84 3.72H228.14M224.56 5.34H228.14M225.53 0.55V3.85M227.30 2.20V5.22M228.85 0.55H233.80M228.85 4.97H233.80M229.21 0.44V5.06M233.63 0.44V5.06M229.13 2.61H233.53M231.20 1.65V4.95M259.59 3.03l1.92 2.20" stroke="#ffffff" stroke-width="1.30" fill="none" vector-effect="non-scaling-stroke"/><text x="0.00" y="5.50" font-size="6.88" fill="#ffffff" stroke="#ffffff" stroke-width="0.52">2</text><text x="43.42" y="5.50" font-size="6.88" fill="#ffffff" stroke="#ffffff" stroke-width="0.52">D108</text><text x="89.67" y="5.50" font-size="6.88" fill="#ffffff" stroke="#ffffff" stroke-width="0.52">4mm</text><text x="129.59" y="5.50" font-size="6.88" fill="#ffffff" stroke="#ffffff" stroke-width="0.52">850mm</text><text x="171.22" y="5.50" font-size="6.88" fill="#ffffff" stroke="#ffffff" stroke-width="0.52">8.0m</text><text x="234.52" y="5.50" font-size="6.88" fill="#ffffff" stroke="#ffffff" stroke-width="0.52">400mm</text></g><g transform="translate(65.70 327.30) scale(0.6790 1)"><path d="M5.20 3.03l1.92 2.20M13.72 0.73H19.22M13.72 2.55H19.22M13.72 4.99H19.22M15.28 0.55V5.22M17.65 0.28V4.95M20.70 0.28V5.22M19.66 1.49H21.59M19.66 3.65H21.59M22.14 0.36H24.89M22.14 2.70H24.89M22.14 5.13H24.89M22.58 0.55V4.95M24.72 0.55V4.95M26.62 0.28V5.22M25.60 1.57H27.53M25.60 3.71H27.53M28.08 0.74H30.83M28.08 2.86H30.83M28.08 4.74H30.83M28.43 0.55V4.95M30.50 0.55V4.95M31.82 0.65H36.77M31.82 5.03H36.77M31.81 0.44V5.06M36.42 0.44V5.06M32.09 2.57H36.49M34.26 1.65V4.95M38.34 0.28V5.22M37.48 1.76H39.41M37.48 3.80H39.41M39.96 0.67H42.71M39.96 2.67H42.71M39.96 5.08H42.71M40.05 0.55V4.95M42.52 0.55V4.95M43.70 0.38H48.65M46.36 0.28V5.22M43.97 2.61H48.37M43.42 5.00H48.92M44.42 1.65V4.40M75.53 3.03l1.92 2.20M81.09 0.28V5.22M80.20 1.54H82.13M80.20 3.91H82.13M82.68 0.51H85.43M82.68 2.70H85.43M82.68 4.93H85.43M83.09 0.55V4.95M84.96 0.55V4.95M86.42 0.55H91.37M89.07 0.28V5.22M86.69 2.68H91.09M86.14 4.96H91.64M87.17 1.65V4.40M105.11 0.00V5.50M104.65 2.58H106.30M106.85 0.91H110.15M106.85 3.21H110.15M106.85 4.86H110.15M108.60 0.00V5.22M111.43 0.00V5.50M110.59 2.53H112.24M112.79 1.02H116.09M112.79 2.82H116.09M112.79 4.83H116.09M114.43 0.00V5.22M116.53 0.75H122.03M116.53 2.70H122.03M116.53 4.84H122.03M117.87 0.55V5.22M120.65 0.28V4.95M122.47 0.41H127.97M122.47 2.88H127.97M122.47 5.05H127.97M123.99 0.55V5.22M126.71 0.28V4.95M129.78 3.03l1.92 2.20" stroke="#ffffff" stroke-width="1.30" fill="none" vector-effect="non-scaling-stroke"/><text x="0.00" y="5.50" font-size="6.88" fill="#ffffff" stroke="#ffffff" stroke-width="0.52">3</text><text x="49.36" y="5.50" font-size="6.88" fill="#ffffff" stroke="#ffffff" stroke-width="0.52">φ90mm</text><text x="92.08" y="5.50" font-size="6.88" fill="#ffffff" stroke="#ffffff" stroke-width="0.52">φ25</text></g><g transform="translate(65.70 335.50) scale(0.6403 1)"><path d="M5.20 3.03l1.92 2.20M14.27 0.00V5.50M13.72 2.63H15.37M15.92 0.81H19.22M15.92 3.15H19.22M15.92 4.99H19.22M17.58 0.00V5.22M19.66 0.66H25.16M19.66 2.64H25.16M19.66 4.76H25.16M20.83 0.55V5.22M23.81 0.28V4.95M25.88 0.29H30.83M25.88 5.03H30.83M25.87 0.44V5.06M30.48 0.44V5.06M26.15 2.80H30.55M28.23 1.65V4.95M31.54 0.55H37.04M31.54 2.84H37.04M31.54 4.93H37.04M32.80 0.55V5.22M35.63 0.28V4.95M38.32 0.00V5.50M37.48 2.36H39.13M39.68 0.84H42.98M39.68 3.15H42.98M39.68 5.06H42.98M41.46 0.00V5.22M43.70 0.35H48.65M43.70 5.09H48.65M43.81 0.44V5.06M48.59 0.44V5.06M43.97 2.62H48.37M46.06 1.65V4.95M49.64 1.65L52.11 1.65M52.11 1.65L51.89 5.06M51.89 5.06L51.34 4.67M50.90 0.28L50.57 3.30M50.57 3.30L49.58 5.22M52.77 1.92L54.59 1.92M52.77 1.92L52.77 4.95M54.59 1.92L54.59 4.95M52.77 4.84L54.59 4.84M55.63 0.28L60.47 0.28M55.63 0.28L55.63 5.33M60.47 0.28L60.47 5.33M55.63 5.17L60.47 5.17M56.68 1.49L59.43 1.49M58.05 0.77L58.05 2.75M56.95 2.75L59.15 2.75M56.95 2.75L56.95 4.29M59.15 2.75L59.15 4.29M56.95 4.18L59.15 4.18M61.52 0.32H66.47M63.90 0.28V5.22M61.79 2.93H66.19M61.24 4.92H66.74M61.88 1.65V4.40M67.46 0.66H72.41M67.46 5.06H72.41M67.51 0.44V5.06M72.38 0.44V5.06M67.73 2.82H72.13M70.15 1.65V4.95M73.73 0.28V5.22M73.12 1.82H75.05M73.12 3.73H75.05M75.60 0.53H78.35M75.60 2.69H78.35M75.60 5.12H78.35M75.76 0.55V4.95M77.88 0.55V4.95M79.93 0.00V5.50M79.06 2.51H80.71M81.26 1.01H84.56M81.26 2.97H84.56M81.26 5.11H84.56M82.89 0.00V5.22M86.38 3.03l1.92 2.20" stroke="#ffffff" stroke-width="1.30" fill="none" vector-effect="non-scaling-stroke"/><text x="0.00" y="5.50" font-size="6.88" fill="#ffffff" stroke="#ffffff" stroke-width="0.52">4</text></g><g transform="translate(73.50 343.70) scale(0.6688 1)"><path d="M8.68 0.56H13.63M8.68 5.13H13.63M8.63 0.44V5.06M13.52 0.44V5.06M8.95 2.84H13.35M11.09 1.65V4.95M15.11 0.28V5.22M14.34 1.49H16.27M14.34 3.72H16.27M16.82 0.44H19.57M16.82 2.79H19.57M16.82 5.02H19.57M16.96 0.55V4.95M19.08 0.55V4.95M20.56 0.40H25.51M20.56 5.00H25.51M20.78 0.44V5.06M25.16 0.44V5.06M20.83 2.54H25.23M23.03 1.65V4.95M26.22 0.36H31.72M26.22 2.57H31.72M26.22 4.90H31.72M27.62 0.55V5.22M30.41 0.28V4.95M33.05 0.28V5.22M32.16 1.61H34.09M32.16 3.75H34.09M34.64 0.76H37.39M34.64 2.82H37.39M34.64 4.91H37.39M34.72 0.55V4.95M37.22 0.55V4.95M38.38 0.40H43.33M38.38 4.85H43.33M38.66 0.44V5.06M43.30 0.44V5.06M38.65 2.81H43.05M40.80 1.65V4.95M44.04 0.42H49.54M44.04 2.53H49.54M44.04 5.13H49.54M45.38 0.55V5.22M48.31 0.28V4.95M49.98 0.58H55.48M49.98 2.69H55.48M49.98 5.07H55.48M51.19 0.55V5.22M53.91 0.28V4.95" stroke="#ffffff" stroke-width="1.30" fill="none" vector-effect="non-scaling-stroke"/><text x="0.00" y="5.50" font-size="6.88" fill="#ffffff" stroke="#ffffff" stroke-width="0.52">(1)</text></g><g transform="translate(73.50 352.20) scale(0.8067 1)"><path d="M0.28 0.50H5.22M2.93 0.28V5.22M0.55 2.57H4.95M0.00 5.11H5.50M0.77 1.65V4.40M6.46 0.00V5.50M5.94 2.41H7.59M8.14 0.68H11.44M8.14 2.88H11.44M8.14 4.76H11.44M9.74 0.00V5.22M12.56 0.55V5.22M11.88 1.31H13.53M14.08 0.42H17.38M14.08 2.04H17.38M14.08 4.04H17.38M13.80 5.43H17.38M14.90 0.55V3.85M16.36 2.20V5.22M18.37 0.78H22.77M19.65 0.82V5.50M22.00 0.82V5.50M17.82 3.44H23.32M18.92 5.08H22.22M24.47 0.55V5.22M23.76 1.15H25.41M25.96 0.60H29.26M25.96 2.07H29.26M25.96 3.84H29.26M25.69 5.25H29.26M26.58 0.55V3.85M28.63 2.20V5.22M29.98 0.39H34.93M32.28 0.28V5.22M30.25 2.64H34.65M29.70 5.16H35.20M30.70 1.65V4.40M36.63 0.28V5.22M35.64 1.80H37.56M35.64 3.93H37.56M38.12 0.62H40.87M38.12 2.67H40.87M38.12 4.90H40.87M38.37 0.55V4.95M40.74 0.55V4.95M42.04 0.55V5.22M41.58 1.06H43.23M43.78 0.59H47.08M43.78 2.17H47.08M43.78 3.92H47.08M43.50 5.20H47.08M44.58 0.55V3.85M46.05 2.20V5.22M48.89 3.03l1.92 2.20M54.44 0.00V5.50M53.57 2.46H55.22M55.77 0.80H59.07M55.77 3.08H59.07M55.77 5.09H59.07M57.57 0.00V5.22M60.05 0.55V5.22M59.51 0.93H61.16M61.71 0.39H65.01M61.71 2.17H65.01M61.71 3.67H65.01M61.43 5.20H65.01M62.54 0.55V3.85M63.98 2.20V5.22M66.00 0.66H70.40M67.29 0.82V5.50M69.49 0.82V5.50M65.45 3.40H70.95M66.55 5.04H69.85M71.94 0.55V5.22M71.39 1.05H73.04M73.59 0.75H76.89M73.59 2.04H76.89M73.59 4.01H76.89M73.31 5.44H76.89M74.52 0.55V3.85M76.20 2.20V5.22M77.60 0.28H82.55M80.25 0.28V5.22M77.88 2.66H82.28M77.33 5.20H82.83M78.28 1.65V4.40M83.82 0.95H88.22M85.11 0.82V5.50M87.20 0.82V5.50M83.27 3.23H88.77M84.37 5.34H87.67M89.48 0.36H94.43M92.01 0.28V5.22M89.76 2.93H94.16M89.21 5.04H94.71M89.93 1.65V4.40M95.15 0.42H100.65M95.15 2.65H100.65M95.15 4.95H100.65M96.45 0.55V5.22M99.07 0.28V4.95M101.36 0.40H106.31M103.90 0.28V5.22M101.64 2.65H106.04M101.09 4.98H106.59M101.86 1.65V4.40M107.71 0.55V5.22M107.03 0.93H108.68M109.23 0.56H112.53M109.23 2.26H112.53M109.23 3.79H112.53M108.95 5.39H112.53M110.08 0.55V3.85M111.74 2.20V5.22M113.69 0.28V5.22M112.97 1.67H114.89M112.97 4.01H114.89M115.44 0.65H118.19M115.44 2.69H118.19M115.44 4.90H118.19M115.66 0.55V4.95M117.76 0.55V4.95M119.18 0.56H124.13M119.18 5.03H124.13M119.21 0.44V5.06M124.08 0.44V5.06M119.46 2.55H123.86M121.80 1.65V4.95M125.12 0.36H130.07M125.12 5.27H130.07M125.45 0.44V5.06M130.10 0.44V5.06M125.40 2.92H129.80M127.70 1.65V4.95M131.34 0.62H135.74M132.29 0.82V5.50M134.97 0.82V5.50M130.79 3.27H136.29M131.89 5.23H135.19M137.39 0.28V5.22M136.73 1.53H138.65M136.73 3.92H138.65M139.20 0.34H141.95M139.20 2.53H141.95M139.20 4.89H141.95M139.31 0.55V4.95M141.62 0.55V4.95M142.94 0.40H147.89M145.33 0.28V5.22M143.22 2.59H147.62M142.67 5.00H148.17M143.64 1.65V4.40M148.88 0.28H153.83M151.55 0.28V5.22M149.16 2.64H153.56M148.61 4.91H154.11M149.26 1.65V4.40M155.10 0.67H159.50M156.27 0.82V5.50M158.57 0.82V5.50M154.55 3.44H160.05M155.65 5.43H158.95M161.38 0.28V5.22M160.49 1.68H162.41M160.49 3.78H162.41M162.96 0.61H165.71M162.96 2.73H165.71M162.96 5.14H165.71M163.34 0.55V4.95M165.33 0.55V4.95M167.05 0.28V5.22M166.43 1.66H168.35M166.43 3.81H168.35M168.90 0.43H171.65M168.90 2.56H171.65M168.90 5.07H171.65M168.97 0.55V4.95M171.40 0.55V4.95M172.64 0.28H177.59M174.99 0.28V5.22M172.92 2.80H177.32M172.37 5.06H177.87M173.26 1.65V4.40M178.91 0.55V5.22M178.31 1.10H179.96M180.51 0.36H183.81M180.51 2.26H183.81M180.51 4.07H183.81M180.23 5.32H183.81M181.33 0.55V3.85M183.00 2.20V5.22M184.25 0.70H189.75M184.25 2.86H189.75M184.25 4.93H189.75M185.73 0.55V5.22M188.35 0.28V4.95M191.56 3.03l1.92 2.20" stroke="#ffffff" stroke-width="1.30" fill="none" vector-effect="non-scaling-stroke"/></g><g transform="translate(73.50 361.10) scale(0.7555 1)"><path d="M8.68 0.66H13.63M11.05 0.28V5.22M8.95 2.81H13.35M8.40 4.89H13.90M9.40 1.65V4.40M14.89 1.02H19.29M15.89 0.82V5.50M18.27 0.82V5.50M14.34 3.36H19.84M15.44 5.30H18.74M20.83 0.95H25.23M21.94 0.82V5.50M24.30 0.82V5.50M20.28 3.36H25.78M21.38 5.43H24.68M26.50 0.26H31.45M28.98 0.28V5.22M26.77 2.60H31.17M26.22 5.24H31.72M27.20 1.65V4.40" stroke="#ffffff" stroke-width="1.30" fill="none" vector-effect="non-scaling-stroke"/><text x="0.00" y="5.50" font-size="6.88" fill="#ffffff" stroke="#ffffff" stroke-width="0.52">(2)</text></g><g transform="translate(73.50 369.90) scale(0.9822 1)"><path d="M0.28 0.64H5.22M2.86 0.28V5.22M0.55 2.67H4.95M0.00 5.23H5.50M0.75 1.65V4.40M6.22 0.39H11.16M8.84 0.28V5.22M6.49 2.94H10.89M5.94 5.27H11.44M6.92 1.65V4.40M12.53 0.00V5.50M11.88 2.62H13.53M14.08 0.91H17.38M14.08 3.18H17.38M14.08 4.92H17.38M15.83 0.00V5.22M18.65 0.00V5.50M17.82 2.60H19.47M20.02 0.78H23.32M20.02 3.06H23.32M20.02 4.98H23.32M21.53 0.00V5.22M24.38 0.28V5.22M23.76 1.48H25.69M23.76 4.04H25.69M26.24 0.48H28.98M26.24 2.59H28.98M26.24 4.74H28.98M26.31 0.55V4.95M28.79 0.55V4.95M30.25 0.62H34.65M31.16 0.82V5.50M33.63 0.82V5.50M29.70 3.46H35.20M30.80 5.34H34.10M63.05 0.58H68.00M65.66 0.28V5.22M63.32 2.92H67.72M62.77 4.87H68.27M63.76 1.65V4.40M69.26 1.02H73.66M70.19 0.82V5.50M72.71 0.82V5.50M68.71 3.13H74.21M69.81 5.02H73.11M75.38 0.55V5.22M74.65 1.21H76.30M76.85 0.37H80.15M76.85 2.31H80.15M76.85 3.91H80.15M76.58 5.21H80.15M77.52 0.55V3.85M79.46 2.20V5.22M81.14 0.70H85.54M82.16 0.82V5.50M84.69 0.82V5.50M80.59 3.09H86.09M81.69 5.12H84.99M86.81 0.24H91.76M86.81 5.17H91.76M87.15 0.44V5.06M91.71 0.44V5.06M87.08 2.79H91.48M89.27 1.65V4.95M92.75 0.49H97.70M92.75 4.85H97.70M92.88 0.44V5.06M97.51 0.44V5.06M93.02 2.87H97.42M95.16 1.65V4.95M98.96 0.63H103.36M100.09 0.82V5.50M102.63 0.82V5.50M98.41 3.44H103.91M99.51 5.26H102.81M105.73 3.03l1.92 2.20M110.68 0.29H115.63M110.68 4.84H115.63M110.71 0.44V5.06M115.58 0.44V5.06M110.95 2.96H115.35M112.94 1.65V4.95M116.34 0.37H121.84M116.34 2.84H121.84M116.34 5.09H121.84M117.92 0.55V5.22M120.51 0.28V4.95M122.84 0.55V5.22M122.28 1.13H123.93M124.48 0.40H127.78M124.48 2.34H127.78M124.48 4.04H127.78M124.21 5.11H127.78M125.16 0.55V3.85M127.15 2.20V5.22M128.59 0.55V5.22M128.22 1.23H129.87M130.42 0.64H133.72M130.42 2.33H133.72M130.42 3.91H133.72M130.15 5.16H133.72M131.21 0.55V3.85M132.85 2.20V5.22M134.71 0.64H139.11M135.99 0.82V5.50M138.08 0.82V5.50M134.16 3.17H139.66M135.26 5.12H138.56M140.76 0.00V5.50M140.10 2.42H141.75M142.30 0.99H145.60M142.30 2.91H145.60M142.30 4.93H145.60M143.97 0.00V5.22M146.32 1.65L148.79 1.65M148.79 1.65L148.57 5.06M148.57 5.06L148.02 4.67M147.58 0.28L147.25 3.30M147.25 3.30L146.26 5.22M149.45 1.92L151.27 1.92M149.45 1.92L149.45 4.95M151.27 1.92L151.27 4.95M149.45 4.84L151.27 4.84M152.62 0.55V5.22M151.98 1.15H153.63M154.18 0.34H157.48M154.18 2.24H157.48M154.18 3.86H157.48M153.91 5.39H157.48M154.99 0.55V3.85M156.68 2.20V5.22M158.20 0.29H163.15M158.20 5.03H163.15M158.48 0.44V5.06M163.02 0.44V5.06M158.47 2.59H162.87M160.66 1.65V4.95M164.41 0.71H168.81M165.38 0.82V5.50M167.90 0.82V5.50M163.86 3.39H169.36M164.96 5.38H168.26M170.08 0.54H175.03M172.76 0.28V5.22M170.35 2.85H174.75M169.80 5.11H175.30M170.56 1.65V4.40M176.02 0.36H180.97M178.36 0.28V5.22M176.29 2.96H180.69M175.74 5.16H181.24M176.39 1.65V4.40M182.23 0.65H186.63M183.28 0.82V5.50M186.02 0.82V5.50M181.68 3.43H187.18M182.78 5.33H186.08M187.62 0.45H193.12M187.62 2.58H193.12M187.62 5.13H193.12M188.90 0.55V5.22M191.92 0.28V4.95M193.56 0.34H199.06M193.56 2.71H199.06M193.56 5.08H199.06M195.02 0.55V5.22M197.69 0.28V4.95M200.05 0.74H204.45M200.94 0.82V5.50M203.52 0.82V5.50M199.50 3.40H205.00M200.60 5.01H203.90M206.82 3.03l1.92 2.20M211.77 0.62H216.72M214.21 0.28V5.22M212.04 2.78H216.44M211.49 5.17H216.99M212.28 1.65V4.40M217.71 0.51H222.66M220.25 0.28V5.22M217.98 2.92H222.38M217.43 5.12H222.93M218.30 1.65V4.40M223.65 0.52H228.60M226.19 0.28V5.22M223.92 2.73H228.32M223.37 4.98H228.87M224.26 1.65V4.40M230.31 0.28V5.22M229.31 1.54H231.24M229.31 3.81H231.24M231.79 0.64H234.54M231.79 2.60H234.54M231.79 5.10H234.54M232.06 0.55V4.95M234.05 0.55V4.95M235.76 0.55V5.22M235.25 1.18H236.90M237.45 0.74H240.75M237.45 2.06H240.75M237.45 3.92H240.75M237.18 5.35H240.75M238.23 0.55V3.85M239.92 2.20V5.22M242.57 3.03l1.92 2.20M247.87 0.28V5.22M247.24 1.67H249.17M247.24 3.70H249.17M249.72 0.67H252.47M249.72 2.94H252.47M249.72 4.96H252.47M249.82 0.55V4.95M252.23 0.55V4.95M253.71 0.00V5.50M253.18 2.46H254.83M255.38 0.61H258.68M255.38 3.15H258.68M255.38 4.89H258.68M256.96 0.00V5.22" stroke="#ffffff" stroke-width="1.30" fill="none" vector-effect="non-scaling-stroke"/><text x="35.64" y="5.50" font-size="6.88" fill="#ffffff" stroke="#ffffff" stroke-width="0.52">P.O.32.5</text></g><g transform="translate(65.70 378.40) scale(0.9287 1)"><path d="M0.55 1.02H4.95M1.52 0.82V5.50M4.21 0.82V5.50M0.00 3.25H5.50M1.10 5.34H4.40M40.38 3.03l1.92 2.20M45.98 0.28V5.22M45.06 1.70H46.98M45.06 3.91H46.98M47.53 0.44H50.28M47.53 2.70H50.28M47.53 4.76H50.28M47.62 0.55V4.95M50.19 0.55V4.95M51.55 0.91H55.95M52.58 0.82V5.50M55.02 0.82V5.50M51.00 3.18H56.50M52.10 5.33H55.40M57.80 0.00V5.50M56.94 2.69H58.59M59.14 1.03H62.44M59.14 3.01H62.44M59.14 4.80H62.44M60.97 0.00V5.22M63.84 0.28V5.22M62.88 1.71H64.80M62.88 3.84H64.80M65.35 0.58H68.10M65.35 2.63H68.10M65.35 5.15H68.10M65.56 0.55V4.95M67.89 0.55V4.95M69.50 0.55V5.22M68.82 1.06H70.47M71.02 0.77H74.32M71.02 2.31H74.32M71.02 3.92H74.32M70.74 5.35H74.32M71.83 0.55V3.85M73.62 2.20V5.22M75.03 0.34H79.98M77.45 0.28V5.22M75.31 2.64H79.71M74.76 5.03H80.26M75.44 1.65V4.40M80.97 1.65L83.45 1.65M83.45 1.65L83.23 5.06M83.23 5.06L82.68 4.67M82.24 0.28L81.91 3.30M81.91 3.30L80.92 5.22M84.11 1.92L85.92 1.92M84.11 1.92L84.11 4.95M85.92 1.92L85.92 4.95M84.11 4.84L85.92 4.84M87.60 0.28V5.22M86.64 1.78H88.56M86.64 3.79H88.56M89.11 0.62H91.86M89.11 2.67H91.86M89.11 4.94H91.86M89.44 0.55V4.95M91.40 0.55V4.95M92.85 0.29H97.80M92.85 4.97H97.80M92.97 0.44V5.06M97.45 0.44V5.06M93.13 2.78H97.53M95.25 1.65V4.95M98.79 0.45H103.74M101.20 0.28V5.22M99.07 2.79H103.47M98.52 5.13H104.02M99.21 1.65V4.40M105.35 0.28V5.22M104.46 1.54H106.38M104.46 3.67H106.38M106.93 0.39H109.68M106.93 2.63H109.68M106.93 5.07H109.68M107.14 0.55V4.95M109.25 0.55V4.95M110.40 0.68H115.90M110.40 2.60H115.90M110.40 5.12H115.90M111.82 0.55V5.22M114.64 0.28V4.95M116.89 1.00H121.29M118.01 0.82V5.50M120.52 0.82V5.50M116.34 3.21H121.84M117.44 5.22H120.74M122.55 0.45H127.50M125.13 0.28V5.22M122.83 2.72H127.23M122.28 5.23H127.78M123.13 1.65V4.40M128.49 0.40H133.44M128.49 5.20H133.44M128.64 0.44V5.06M133.30 0.44V5.06M128.77 2.74H133.17M131.14 1.65V4.95M155.02 3.03l1.92 2.20M160.25 0.82H164.65M161.35 0.82V5.50M163.84 0.82V5.50M159.70 3.46H165.20M160.80 5.01H164.10M166.11 0.55V5.22M165.64 1.19H167.29M167.84 0.55H171.14M167.84 2.11H171.14M167.84 3.83H171.14M167.56 5.19H171.14M168.88 0.55V3.85M170.39 2.20V5.22M171.85 0.50H176.80M174.39 0.28V5.22M172.13 2.54H176.53M171.58 5.11H177.08M172.48 1.65V4.40M177.79 0.58H182.74M177.79 4.88H182.74M177.95 0.44V5.06M182.69 0.44V5.06M178.07 2.59H182.47M180.14 1.65V4.95M183.46 0.61H188.96M183.46 2.68H188.96M183.46 5.11H188.96M184.78 0.55V5.22M187.57 0.28V4.95M190.08 0.00V5.50M189.40 2.66H191.05M191.60 0.73H194.90M191.60 2.96H194.90M191.60 4.84H194.90M193.05 0.00V5.22M195.61 0.35H200.56M195.61 5.20H200.56M195.74 0.44V5.06M200.40 0.44V5.06M195.89 2.65H200.29M198.09 1.65V4.95M201.55 0.51H206.50M204.16 0.28V5.22M201.83 2.68H206.23M201.28 4.98H206.78M202.02 1.65V4.40M231.22 0.00V5.50M230.35 2.29H232.00M232.55 1.04H235.85M232.55 2.98H235.85M232.55 4.97H235.85M234.16 0.00V5.22M236.75 0.00V5.50M236.29 2.39H237.94M238.49 0.61H241.79M238.49 2.89H241.79M238.49 5.14H241.79M240.19 0.00V5.22M242.78 0.63H247.18M243.88 0.82V5.50M246.37 0.82V5.50M242.23 3.25H247.73M243.33 5.07H246.63M248.72 0.91H253.12M249.86 0.82V5.50M252.37 0.82V5.50M248.17 3.17H253.67M249.27 5.30H252.57M255.48 3.03l1.92 2.20" stroke="#ffffff" stroke-width="1.30" fill="none" vector-effect="non-scaling-stroke"/><text x="5.94" y="5.50" font-size="6.88" fill="#ffffff" stroke="#ffffff" stroke-width="0.52">1.7~0.55:1</text><text x="134.16" y="5.50" font-size="6.88" fill="#ffffff" stroke="#ffffff" stroke-width="0.52">1:0.28</text><text x="207.22" y="5.50" font-size="6.88" fill="#ffffff" stroke="#ffffff" stroke-width="0.52">1.0~1.2</text></g><g transform="translate(73.50 386.70) scale(0.6214 1)"><path d="M8.40 0.61H13.90M8.40 2.61H13.90M8.40 5.02H13.90M9.94 0.55V5.22M12.49 0.28V4.95M15.35 0.28V5.22M14.34 1.72H16.27M14.34 3.79H16.27M16.82 0.69H19.57M16.82 2.88H19.57M16.82 4.98H19.57M16.99 0.55V4.95M19.21 0.55V4.95M20.28 0.35H25.78M20.28 2.54H25.78M20.28 4.98H25.78M21.69 0.55V5.22M24.59 0.28V4.95M26.22 0.58H31.72M26.22 2.55H31.72M26.22 4.78H31.72M27.73 0.55V5.22M30.38 0.28V4.95M33.54 3.03l1.92 2.20M42.06 0.53H47.56M42.06 2.54H47.56M42.06 4.90H47.56M43.48 0.55V5.22M46.38 0.28V4.95M48.28 0.43H53.23M50.71 0.28V5.22M48.55 2.57H52.95M48.00 5.12H53.50M48.70 1.65V4.40M54.22 0.50H59.17M56.66 0.28V5.22M54.49 2.53H58.89M53.94 5.13H59.44M54.98 1.65V4.40M60.25 0.55V5.22M59.88 1.26H61.53M62.08 0.39H65.38M62.08 1.99H65.38M62.08 3.95H65.38M61.81 5.11H65.38M63.01 0.55V3.85M64.42 2.20V5.22" stroke="#ffffff" stroke-width="1.30" fill="none" vector-effect="non-scaling-stroke"/><text x="0.00" y="5.50" font-size="6.88" fill="#ffffff" stroke="#ffffff" stroke-width="0.52">(3)</text></g><g transform="translate(73.50 395.10) scale(0.9908 1)"><path d="M0.77 0.28V5.22M0.00 1.76H1.92M0.00 3.94H1.92M2.48 0.39H5.22M2.48 2.86H5.22M2.48 4.86H5.22M2.78 0.55V4.95M4.95 0.55V4.95M6.49 1.02H10.89M7.48 0.82V5.50M10.27 0.82V5.50M5.94 3.40H11.44M7.04 5.01H10.34M12.87 0.28V5.22M11.88 1.73H13.80M11.88 3.90H13.80M14.36 0.50H17.11M14.36 2.67H17.11M14.36 4.99H17.11M14.83 0.55V4.95M16.98 0.55V4.95M18.29 0.00V5.50M17.82 2.42H19.47M20.02 0.86H23.32M20.02 3.00H23.32M20.02 5.03H23.32M21.51 0.00V5.22M24.14 0.55V5.22M23.76 1.30H25.41M25.96 0.40H29.26M25.96 2.33H29.26M25.96 3.84H29.26M25.69 5.35H29.26M26.76 0.55V3.85M28.33 2.20V5.22M30.28 0.55V5.22M29.70 1.01H31.35M31.90 0.36H35.20M31.90 2.41H35.20M31.90 3.94H35.20M31.63 5.37H35.20M32.65 0.55V3.85M34.42 2.20V5.22M36.61 0.28V5.22M35.64 1.69H37.56M35.64 3.77H37.56M38.12 0.52H40.87M38.12 2.92H40.87M38.12 4.90H40.87M38.47 0.55V4.95M40.63 0.55V4.95M41.85 0.58H46.80M44.23 0.28V5.22M42.13 2.53H46.53M41.58 4.96H47.08M42.37 1.65V4.40M48.37 0.00V5.50M47.52 2.59H49.17M49.72 0.95H53.02M49.72 2.93H53.02M49.72 4.79H53.02M51.54 0.00V5.22M53.96 0.00V5.50M53.46 2.68H55.11M55.66 0.96H58.96M55.66 3.05H58.96M55.66 5.07H58.96M57.31 0.00V5.22M59.88 0.00V5.50M59.40 2.50H61.05M61.60 0.96H64.90M61.60 2.89H64.90M61.60 5.06H64.90M63.44 0.00V5.22M66.71 3.03l1.92 2.20M71.66 0.36H76.61M73.95 0.28V5.22M71.94 2.70H76.34M71.39 5.15H76.89M72.40 1.65V4.40M78.10 0.00V5.50M77.33 2.60H78.98M79.53 0.81H82.83M79.53 2.84H82.83M79.53 5.08H82.83M81.30 0.00V5.22M83.54 0.40H88.49M86.03 0.28V5.22M83.82 2.64H88.22M83.27 5.21H88.77M84.02 1.65V4.40M89.91 0.00V5.50M89.21 2.34H90.86M91.41 0.69H94.71M91.41 2.88H94.71M91.41 5.04H94.71M93.00 0.00V5.22M95.75 0.00V5.50M95.15 2.60H96.80M97.35 0.98H100.65M97.35 2.91H100.65M97.35 5.14H100.65M99.00 0.00V5.22M101.47 0.55V5.22M101.09 1.16H102.74M103.29 0.68H106.59M103.29 2.05H106.59M103.29 3.89H106.59M103.01 5.16H106.59M104.12 0.55V3.85M105.55 2.20V5.22M108.40 3.03l1.92 2.20M113.78 0.28V5.22M113.08 1.81H115.00M113.08 3.88H115.00M115.55 0.59H118.30M115.55 2.62H118.30M115.55 5.14H118.30M115.73 0.55V4.95M117.85 0.55V4.95M119.02 0.67H124.52M119.02 2.89H124.52M119.02 5.15H124.52M120.29 0.55V5.22M122.94 0.28V4.95M125.23 0.66H130.18M127.66 0.28V5.22M125.51 2.54H129.91M124.96 4.86H130.46M125.73 1.65V4.40M131.45 0.81H135.85M132.75 0.82V5.50M135.21 0.82V5.50M130.90 3.11H136.40M132.00 5.27H135.30M136.84 0.74H142.34M136.84 2.84H142.34M136.84 4.77H142.34M138.14 0.55V5.22M140.85 0.28V4.95M143.81 0.28V5.22M142.78 1.72H144.70M142.78 3.80H144.70M145.25 0.53H148.00M145.25 2.60H148.00M145.25 5.15H148.00M145.75 0.55V4.95M147.61 0.55V4.95M149.74 0.28V5.22M148.72 1.84H150.64M148.72 3.66H150.64M151.19 0.57H153.94M151.19 2.54H153.94M151.19 5.13H153.94M151.36 0.55V4.95M153.68 0.55V4.95M155.21 0.89H159.61M156.52 0.82V5.50M158.59 0.82V5.50M154.66 3.14H160.16M155.76 5.34H159.06M161.97 3.03l1.92 2.20M166.92 0.52H171.87M169.31 0.28V5.22M167.20 2.79H171.60M166.65 5.17H172.15M167.30 1.65V4.40M172.86 0.38H177.81M172.86 5.01H177.81M172.97 0.44V5.06M177.60 0.44V5.06M173.14 2.72H177.54M175.48 1.65V4.95M179.08 1.00H183.48M180.17 0.82V5.50M182.84 0.82V5.50M178.53 3.43H184.03M179.63 5.07H182.93M184.90 0.55V5.22M184.47 1.29H186.12M186.67 0.71H189.97M186.67 2.37H189.97M186.67 3.69H189.97M186.39 5.20H189.97M187.32 0.55V3.85M189.33 2.20V5.22M190.75 0.55V5.22M190.41 0.91H192.06M192.61 0.76H195.91M192.61 2.12H195.91M192.61 3.73H195.91M192.33 5.06H195.91M193.38 0.55V3.85M195.01 2.20V5.22M196.90 0.63H201.30M198.09 0.82V5.50M200.50 0.82V5.50M196.35 3.14H201.85M197.45 5.39H200.75M202.56 0.40H207.51M202.56 4.95H207.51M202.52 0.44V5.06M207.38 0.44V5.06M202.84 2.66H207.24M205.17 1.65V4.95M208.50 0.44H213.45M208.50 4.98H213.45M208.85 0.44V5.06M213.12 0.44V5.06M208.78 2.96H213.18M210.79 1.65V4.95M214.79 0.55V5.22M214.17 0.97H215.82M216.37 0.54H219.67M216.37 2.11H219.67M216.37 3.74H219.67M216.09 5.09H219.67M217.14 0.55V3.85M219.06 2.20V5.22M220.38 0.63H225.33M222.68 0.28V5.22M220.66 2.66H225.06M220.11 5.23H225.61M220.74 1.65V4.40M227.42 3.03l1.92 2.20M232.26 2.86L237.43 2.86M238.59 1.04H242.99M239.53 0.82V5.50M242.23 0.82V5.50M238.04 3.27H243.54M239.14 5.23H242.44M244.48 0.00V5.50M243.98 2.26H245.63M246.18 0.97H249.48M246.18 3.04H249.48M246.18 4.81H249.48M247.80 0.00V5.22M249.92 0.43H255.42M249.92 2.78H255.42M249.92 4.79H255.42M251.15 0.55V5.22M254.16 0.28V4.95" stroke="#ffffff" stroke-width="1.30" fill="none" vector-effect="non-scaling-stroke"/></g><g transform="translate(66.30 402.70) scale(0.7188 1)"><path d="M0.55 0.68H4.95M1.69 0.82V5.50M4.27 0.82V5.50M0.00 3.47H5.50M1.10 5.33H4.40M6.39 0.55V5.22M5.94 0.97H7.59M8.14 0.60H11.44M8.14 2.29H11.44M8.14 3.99H11.44M7.87 5.26H11.44M8.83 0.55V3.85M10.42 2.20V5.22M12.43 0.83H16.83M13.68 0.82V5.50M16.19 0.82V5.50M11.88 3.31H17.38M12.98 5.16H16.28M18.09 0.59H23.05M18.09 5.22H23.05M18.26 0.44V5.06M22.67 0.44V5.06M18.37 2.93H22.77M20.56 1.65V4.95M56.67 3.03l1.92 2.20M61.96 0.55V5.22M61.34 0.99H62.99M63.54 0.58H66.84M63.54 2.41H66.84M63.54 3.65H66.84M63.27 5.31H66.84M64.40 0.55V3.85M66.17 2.20V5.22M67.56 0.45H72.51M67.56 5.04H72.51M67.73 0.44V5.06M72.17 0.44V5.06M67.83 2.84H72.23M70.17 1.65V4.95M73.95 0.55V5.22M73.22 1.22H74.87M75.42 0.71H78.72M75.42 2.23H78.72M75.42 4.03H78.72M75.15 5.13H78.72M76.07 0.55V3.85M78.00 2.20V5.22M79.16 0.56H84.66M79.16 2.76H84.66M79.16 4.97H84.66M80.33 0.55V5.22M83.49 0.28V4.95M85.38 0.49H90.33M87.71 0.28V5.22M85.65 2.67H90.05M85.10 5.08H90.60M86.13 1.65V4.40M91.69 0.28V5.22M91.04 1.74H92.97M91.04 3.72H92.97M93.52 0.34H96.27M93.52 2.79H96.27M93.52 4.98H96.27M93.80 0.55V4.95M96.08 0.55V4.95M97.74 0.28V5.22M96.98 1.47H98.91M96.98 3.71H98.91M99.46 0.45H102.21M99.46 2.73H102.21M99.46 4.99H102.21M99.85 0.55V4.95M101.76 0.55V4.95M141.56 3.03l1.92 2.20M147.02 0.28V5.22M146.24 1.49H148.16M146.24 3.89H148.16M148.71 0.71H151.46M148.71 2.59H151.46M148.71 4.98H151.46M149.10 0.55V4.95M151.04 0.55V4.95M152.52 0.55V5.22M152.18 1.16H153.83M154.38 0.64H157.68M154.38 2.24H157.68M154.38 3.90H157.68M154.10 5.02H157.68M155.41 0.55V3.85M156.65 2.20V5.22M158.39 0.37H163.34M158.39 4.95H163.34M158.48 0.44V5.06M163.15 0.44V5.06M158.67 2.96H163.07M161.00 1.65V4.95M164.33 0.58H169.28M164.33 5.21H169.28M164.30 0.44V5.06M169.12 0.44V5.06M164.61 2.95H169.01M167.00 1.65V4.95M170.27 0.60H175.22M172.82 0.28V5.22M170.55 2.54H174.95M170.00 4.89H175.50M170.68 1.65V4.40M176.21 0.41H181.16M176.21 5.06H181.16M176.17 0.44V5.06M180.84 0.44V5.06M176.49 2.96H180.89M178.81 1.65V4.95M181.88 0.61H187.38M181.88 2.89H187.38M181.88 5.12H187.38M183.42 0.55V5.22M185.80 0.28V4.95M226.83 3.03l1.92 2.20" stroke="#ffffff" stroke-width="1.30" fill="none" vector-effect="non-scaling-stroke"/><text x="23.76" y="5.50" font-size="6.88" fill="#ffffff" stroke="#ffffff" stroke-width="0.52">2~0.4MPa</text><text x="102.92" y="5.50" font-size="6.88" fill="#ffffff" stroke="#ffffff" stroke-width="0.52">1.0~2.0MPa</text><text x="187.82" y="5.50" font-size="6.88" fill="#ffffff" stroke="#ffffff" stroke-width="0.52">30~40L/min</text></g><g transform="translate(65.70 412.30) scale(0.6980 1)"><path d="M5.20 3.03l1.92 2.20M14.27 0.88H18.67M15.56 0.82V5.50M17.90 0.82V5.50M13.72 3.36H19.22M14.82 5.36H18.12M20.54 0.28V5.22M19.66 1.54H21.59M19.66 3.86H21.59M22.14 0.52H24.89M22.14 2.95H24.89M22.14 4.86H24.89M22.33 0.55V4.95M24.68 0.55V4.95M26.24 0.28V5.22M25.60 1.85H27.53M25.60 4.04H27.53M28.08 0.73H30.83M28.08 2.57H30.83M28.08 4.99H30.83M28.54 0.55V4.95M30.53 0.55V4.95M32.04 0.00V5.50M31.54 2.38H33.19M33.74 0.78H37.04M33.74 2.93H37.04M33.74 4.84H37.04M35.21 0.00V5.22M38.05 0.00V5.50M37.48 2.45H39.13M39.68 0.91H42.98M39.68 2.90H42.98M39.68 4.90H42.98M41.35 0.00V5.22M43.70 0.42H48.65M43.70 5.08H48.65M43.91 0.44V5.06M48.47 0.44V5.06M43.97 2.67H48.37M46.06 1.65V4.95M49.64 0.30H54.59M52.13 0.28V5.22M49.91 2.96H54.31M49.36 5.01H54.86M50.38 1.65V4.40M55.58 0.60H60.53M57.94 0.28V5.22M55.85 2.77H60.25M55.30 5.06H60.80M56.03 1.65V4.40M61.52 0.35H66.47M64.11 0.28V5.22M61.79 2.60H66.19M61.24 4.87H66.74M62.23 1.65V4.40M68.56 3.03l1.92 2.20M73.23 0.62H78.73M73.23 2.76H78.73M73.23 5.10H78.73M74.54 0.55V5.22M77.47 0.28V4.95M79.71 0.00V5.50M79.17 2.68H80.82M81.37 0.93H84.67M81.37 2.87H84.67M81.37 4.88H84.67M82.96 0.00V5.22M85.66 0.69H90.06M86.81 0.82V5.50M89.14 0.82V5.50M85.11 3.45H90.61M86.21 5.05H89.51M91.71 0.55V5.22M91.05 1.21H92.70M93.25 0.54H96.55M93.25 2.33H96.55M93.25 3.94H96.55M92.98 5.41H96.55M93.91 0.55V3.85M95.89 2.20V5.22M97.78 0.28V5.22M96.99 1.67H98.92M96.99 3.68H98.92M99.47 0.50H102.22M99.47 2.97H102.22M99.47 4.80H102.22M99.90 0.55V4.95M101.85 0.55V4.95M116.53 3.03l1.92 2.20" stroke="#ffffff" stroke-width="1.30" fill="none" vector-effect="non-scaling-stroke"/><text x="0.00" y="5.50" font-size="6.88" fill="#ffffff" stroke="#ffffff" stroke-width="0.52">5</text><text x="102.93" y="5.50" font-size="6.88" fill="#ffffff" stroke="#ffffff" stroke-width="0.52">mm</text></g><g transform="translate(65.70 420.90) scale(0.6513 1)"><path d="M5.20 3.03l1.92 2.20M14.43 0.00V5.50M13.72 2.42H15.37M15.92 0.80H19.22M15.92 3.01H19.22M15.92 5.05H19.22M17.48 0.00V5.22M19.66 0.56H25.16M19.66 2.79H25.16M19.66 5.02H25.16M20.82 0.55V5.22M23.90 0.28V4.95M25.60 0.50H31.10M25.60 2.66H31.10M25.60 4.97H31.10M27.11 0.55V5.22M29.70 0.28V4.95M31.54 0.59H37.04M31.54 2.57H37.04M31.54 5.13H37.04M32.84 0.55V5.22M35.82 0.28V4.95M37.92 0.55V5.22M37.48 1.02H39.13M39.68 0.76H42.98M39.68 2.37H42.98M39.68 4.05H42.98M39.41 5.02H42.98M40.40 0.55V3.85M42.33 2.20V5.22M43.70 0.62H48.65M43.70 5.18H48.65M43.88 0.44V5.06M48.70 0.44V5.06M43.97 2.76H48.37M46.18 1.65V4.95M49.91 0.79H54.31M51.00 0.82V5.50M53.29 0.82V5.50M49.36 3.38H54.86M50.46 5.20H53.76M56.21 0.28V5.22M55.30 1.66H57.23M55.30 3.67H57.23M57.78 0.49H60.53M57.78 2.71H60.53M57.78 4.98H60.53M58.09 0.55V4.95M60.42 0.55V4.95M61.24 0.54H66.74M61.24 2.72H66.74M61.24 5.00H66.74M62.84 0.55V5.22M65.30 0.28V4.95M67.95 0.00V5.50M67.18 2.30H68.83M69.38 0.76H72.68M69.38 2.97H72.68M69.38 4.76H72.68M70.95 0.00V5.22M73.40 0.27H78.35M76.05 0.28V5.22M73.67 2.83H78.07M73.12 5.20H78.62M74.16 1.65V4.40M79.06 0.61H84.56M79.06 2.76H84.56M79.06 5.09H84.56M80.31 0.55V5.22M83.36 0.28V4.95M86.38 3.03l1.92 2.20" stroke="#ffffff" stroke-width="1.30" fill="none" vector-effect="non-scaling-stroke"/><text x="0.00" y="5.50" font-size="6.88" fill="#ffffff" stroke="#ffffff" stroke-width="0.52">6</text></g><path d="M358.5 371.5H620M358.5 397.5H620M358.5 371.5V437M489.5 371.5V437M358.5 410.5H489.5M358.5 423.5H489.5M387.5 397.5V437M423.5 397.5V437M453.5 397.5V437M489.5 384.5H620M518.5 371.5V397.5M562.5 397.5V437M583.5 397.5V437M562.5 407.5H620M562.5 417.5H620M562.5 426.5H620" stroke="#33e6e6" stroke-width="1" fill="none"/><g transform="translate(364.80 401.60) scale(0.6944 1)"><path d="M0.00 0.49H6.60M0.00 3.37H6.60M0.00 5.99H6.60M1.57 0.66V6.27M5.21 0.33V5.94" stroke="#33e6e6" stroke-width="1.50" fill="none" vector-effect="non-scaling-stroke"/></g><g transform="translate(375.65 401.60) scale(0.6944 1)"><path d="M0.66 1.11H5.94M2.08 0.99V6.60M4.69 0.99V6.60M0.00 3.70H6.60M1.32 6.38H5.28" stroke="#33e6e6" stroke-width="1.50" fill="none" vector-effect="non-scaling-stroke"/></g><g transform="translate(364.80 414.00) scale(0.6944 1)"><path d="M0.53 0.00V6.60M0.00 2.87H1.98M2.64 1.17H6.60M2.64 3.68H6.60M2.64 6.03H6.60M4.46 0.00V6.27" stroke="#33e6e6" stroke-width="1.50" fill="none" vector-effect="non-scaling-stroke"/></g><g transform="translate(375.65 414.00) scale(0.6944 1)"><path d="M0.00 0.80H6.60M0.00 3.34H6.60M0.00 6.14H6.60M1.86 0.66V6.27M4.96 0.33V5.94" stroke="#33e6e6" stroke-width="1.50" fill="none" vector-effect="non-scaling-stroke"/></g><g transform="translate(364.80 426.60) scale(0.6944 1)"><path d="M0.33 0.57H6.27M3.25 0.33V6.27M0.66 3.10H5.94M0.00 5.89H6.60M1.13 1.98V5.28" stroke="#33e6e6" stroke-width="1.50" fill="none" vector-effect="non-scaling-stroke"/></g><g transform="translate(375.65 426.60) scale(0.6944 1)"><path d="M0.33 0.33L6.27 0.33M0.33 0.33L0.33 6.40M6.27 0.33L6.27 6.40M0.33 6.20L6.27 6.20M2.77 0.99L1.45 2.77M1.98 1.98L4.75 1.98M4.75 1.98L1.85 4.09M2.77 2.64L5.28 4.09M2.77 4.49L3.96 4.75M2.38 5.28L4.09 5.68" stroke="#33e6e6" stroke-width="1.50" fill="none" vector-effect="non-scaling-stroke"/></g><g transform="translate(431.00 414.00) scale(0.6296 1)"><path d="M0.81 0.36V6.84M0.00 1.92H2.52M0.00 5.30H2.52M3.24 0.71H6.84M3.24 3.58H6.84M3.24 6.44H6.84M3.77 0.72V6.48M6.57 0.72V6.48" stroke="#33e6e6" stroke-width="1.50" fill="none" vector-effect="non-scaling-stroke"/></g><g transform="translate(441.00 414.00) scale(0.6296 1)"><path d="M0.72 1.24H6.48M2.06 1.08V7.20M5.52 1.08V7.20M0.00 4.24H7.20M1.44 6.65H5.76" stroke="#33e6e6" stroke-width="1.50" fill="none" vector-effect="non-scaling-stroke"/></g><g transform="translate(431.00 426.70) scale(0.6296 1)"><path d="M0.36 0.65H6.84M0.36 6.83H6.84M0.83 0.58V6.62M6.37 0.58V6.62M0.72 3.42H6.48M3.67 2.16V6.48" stroke="#33e6e6" stroke-width="1.50" fill="none" vector-effect="non-scaling-stroke"/></g><g transform="translate(441.00 426.70) scale(0.6296 1)"><path d="M0.82 0.36V6.84M0.00 2.38H2.52M0.00 5.09H2.52M3.24 0.98H6.84M3.24 3.57H6.84M3.24 6.55H6.84M3.46 0.72V6.48M6.22 0.72V6.48" stroke="#33e6e6" stroke-width="1.50" fill="none" vector-effect="non-scaling-stroke"/></g><g transform="translate(493.10 375.40) scale(0.9844 1)"><path d="M0.73 0.00V7.00M0.00 3.05H1.47M1.96 1.27H4.90M1.96 4.03H4.90M1.96 6.19H4.90M3.47 0.00V6.65M5.46 0.97H10.36M5.46 3.26H10.36M5.46 6.40H10.36M6.75 0.70V6.65M9.17 0.35V6.30M10.92 0.59H15.82M10.92 3.71H15.82M10.92 6.29H15.82M12.26 0.70V6.65M14.49 0.35V6.30M16.62 0.38H21.03M18.78 0.35V6.65M16.87 3.22H20.79M16.38 6.65H21.28M17.07 2.10V5.60" stroke="#33e6e6" stroke-width="1.50" fill="none" vector-effect="non-scaling-stroke"/></g><g transform="translate(494.00 389.20) scale(0.9256 1)"><path d="M0.25 0.30H4.71M0.25 5.72H4.71M0.35 0.50V5.70M4.52 0.50V5.70M0.50 2.88H4.46M2.33 1.86V5.58M6.12 0.62V5.89M5.46 1.27H6.94M7.44 0.56H10.42M7.44 2.46H10.42M7.44 4.26H10.42M7.19 5.86H10.42M8.10 0.62V4.34M9.48 2.48V5.89M11.27 0.62V5.89M10.91 1.34H12.40M12.90 0.42H15.87M12.90 2.37H15.87M12.90 4.51H15.87M12.65 5.71H15.87M13.62 0.62V4.34M15.26 2.48V5.89M16.76 0.62V5.89M16.37 1.17H17.86M18.35 0.48H21.33M18.35 2.43H21.33M18.35 4.40H21.33M18.10 5.93H21.33M19.02 0.62V4.34M20.57 2.48V5.89" stroke="#33e6e6" stroke-width="1.50" fill="none" vector-effect="non-scaling-stroke"/></g><g transform="translate(509.90 415.60) scale(0.7321 1)"><path d="M0.29 1.74L2.90 1.74M2.90 1.74L2.67 5.34M2.67 5.34L2.09 4.93M1.62 0.29L1.28 3.48M1.28 3.48L0.23 5.51M3.60 2.03L5.51 2.03M3.60 2.03L3.60 5.22M5.51 2.03L5.51 5.22M3.60 5.10L5.51 5.10M6.61 0.29L11.72 0.29M6.61 0.29L6.61 5.63M11.72 0.29L11.72 5.63M6.61 5.45L11.72 5.45M7.71 1.57L10.61 1.57M9.16 0.81L9.16 2.90M8.00 2.90L10.32 2.90M8.00 2.90L8.00 4.52M10.32 2.90L10.32 4.52M8.00 4.41L10.32 4.41M12.53 1.74L14.50 1.74M13.51 0.23L13.51 5.63M13.51 2.03L12.53 4.18M13.51 2.32L14.44 3.19M14.85 0.99L18.33 0.99M15.78 0.17L15.78 1.74M17.40 0.17L17.40 1.74M14.73 1.91L18.33 1.91M15.31 2.61L17.86 2.61M15.31 2.61L15.31 4.64M17.86 2.61L17.86 4.64M15.31 3.60L17.86 3.60M15.31 4.64L17.86 4.64M16.12 4.93L15.14 5.68M17.17 4.93L18.21 5.68M19.08 0.46L19.08 5.34M19.08 5.34L21.58 5.34M19.37 2.61L21.40 2.61M20.36 0.70L20.36 4.76M19.49 1.16L19.95 1.86M21.23 1.16L20.76 1.86M20.36 2.90L19.37 4.35M20.36 2.90L21.34 4.35M24.30 0.29L22.27 1.16M22.27 1.16L22.27 5.63M22.27 2.78L24.59 2.78M23.55 2.78L23.55 5.68M25.06 0.41L30.86 0.41M27.67 0.41L27.38 1.45M25.52 1.45L30.39 1.45M25.52 1.45L25.52 5.63M30.39 1.45L30.39 5.63M25.52 5.51L30.39 5.51M27.09 1.45L27.09 5.51M28.83 1.45L28.83 5.51M27.09 2.90L28.83 2.90M27.09 4.18L28.83 4.18M31.61 0.29L36.83 0.29M31.61 0.29L31.61 5.63M36.83 0.29L36.83 5.63M31.61 5.45L36.83 5.45M33.76 0.87L32.60 2.44M33.06 1.74L35.50 1.74M35.50 1.74L32.94 3.60M33.76 2.32L35.96 3.60M33.76 3.94L34.80 4.18M33.41 4.64L34.92 4.99M37.76 3.02L43.21 3.02" stroke="#33e6e6" stroke-width="1.40" fill="none" vector-effect="non-scaling-stroke"/></g><g transform="translate(564.90 400.40) scale(1.0817 1)"><path d="M0.22 0.32L4.26 0.32M0.22 0.32L0.22 6.21M4.26 0.32L4.26 6.21M0.22 6.02L4.26 6.02M1.88 0.96L0.99 2.69M1.34 1.92L3.23 1.92M3.23 1.92L1.25 3.97M1.88 2.56L3.58 3.97M1.88 4.35L2.69 4.61M1.61 5.12L2.78 5.50M5.22 0.37H9.25M7.22 0.32V6.08M5.44 3.01H9.02M4.99 5.99H9.47M5.58 1.92V5.12M9.98 0.68H14.46M9.98 3.13H14.46M9.98 5.63H14.46M11.14 0.64V6.08M13.24 0.32V5.76" stroke="#33e6e6" stroke-width="1.50" fill="none" vector-effect="non-scaling-stroke"/></g><g transform="translate(564.90 409.80) scale(0.6481 1)"><path d="M0.84 0.70V6.65M0.00 1.50H2.10M2.80 0.47H7.00M2.80 3.00H7.00M2.80 5.03H7.00M2.45 6.80H7.00M3.59 0.70V4.90M6.07 2.80V6.65" stroke="#33e6e6" stroke-width="1.50" fill="none" vector-effect="non-scaling-stroke"/></g><g transform="translate(576.20 409.80) scale(0.6481 1)"><path d="M0.35 0.45H6.65M3.44 0.35V6.65M0.70 3.27H6.30M0.00 6.26H7.00M1.25 2.10V5.60" stroke="#33e6e6" stroke-width="1.50" fill="none" vector-effect="non-scaling-stroke"/></g><g transform="translate(564.90 418.60) scale(0.6481 1)"><path d="M0.35 0.35L6.65 0.35M0.35 0.35L0.35 6.79M6.65 0.35L6.65 6.79M0.35 6.58L6.65 6.58M2.94 1.05L1.54 2.94M2.10 2.10L5.04 2.10M5.04 2.10L1.96 4.34M2.94 2.80L5.60 4.34M2.94 4.76L4.20 5.04M2.52 5.60L4.34 6.02" stroke="#33e6e6" stroke-width="1.50" fill="none" vector-effect="non-scaling-stroke"/></g><g transform="translate(576.20 418.60) scale(0.6481 1)"><path d="M0.35 0.39H6.65M0.35 6.66H6.65M0.32 0.56V6.44M6.67 0.56V6.44M0.70 3.67H6.30M3.64 2.10V6.30" stroke="#33e6e6" stroke-width="1.50" fill="none" vector-effect="non-scaling-stroke"/></g><g transform="translate(564.90 428.50) scale(0.6481 1)"><path d="M0.35 0.32H6.65M3.39 0.35V6.65M0.70 3.35H6.30M0.00 6.23H7.00M1.17 2.10V5.60" stroke="#33e6e6" stroke-width="1.50" fill="none" vector-effect="non-scaling-stroke"/></g><g transform="translate(576.20 428.50) scale(0.6481 1)"><path d="M0.35 0.48H6.65M0.35 6.63H6.65M0.54 0.56V6.44M6.51 0.56V6.44M0.70 3.57H6.30M3.70 2.10V6.30" stroke="#33e6e6" stroke-width="1.50" fill="none" vector-effect="non-scaling-stroke"/></g>
</svg></body></html>
